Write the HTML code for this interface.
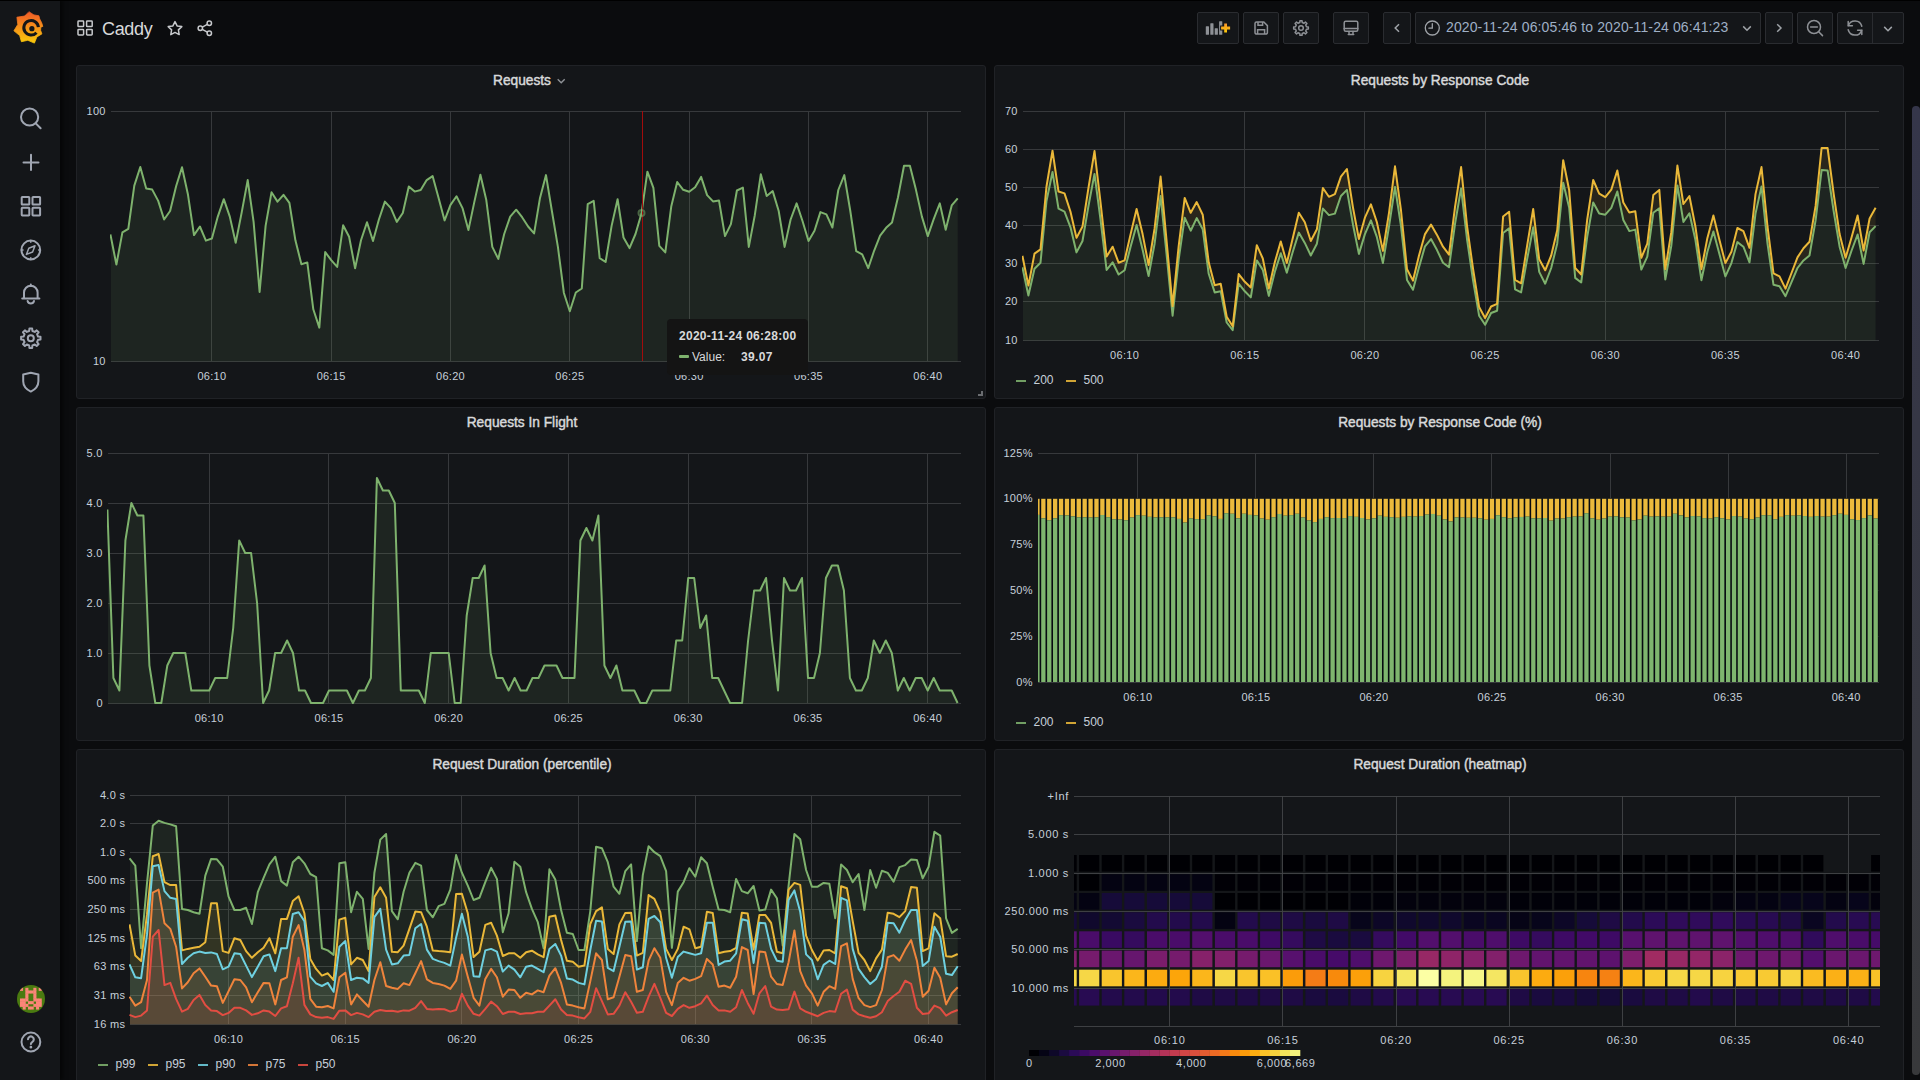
<!DOCTYPE html>
<html><head><meta charset="utf-8"><title>Caddy - Grafana</title>
<style>
*{box-sizing:border-box;margin:0;padding:0}
html,body{width:1920px;height:1080px;overflow:hidden;background:#0b0c0e;font-family:"Liberation Sans",sans-serif;color:#c7d0d9}
.side{position:absolute;left:0;top:0;width:60px;height:1080px;background:#141619;box-shadow:3px 0 4px rgba(0,0,0,.55)}
.topline{position:absolute;left:0;top:0;width:1920px;height:1px;background:#000}
.panel{position:absolute;width:910px;height:334px;background:#141619;border:1px solid #202226;border-radius:3px}
.pt{position:absolute;top:6px;left:-9px;width:100%;text-align:center;font-size:14px;font-weight:normal;-webkit-text-stroke:0.45px #d8d9da;color:#d8d9da;transform:scaleX(.98);transform-origin:center;}
.btn{position:absolute;top:12px;height:32px;background:#141619;border:1px solid #2a2c30;border-radius:2px}
svg text{font-family:"Liberation Sans",sans-serif}
.ico{position:absolute}
.tip{position:absolute;left:667px;top:319px;width:141px;height:56px;background:#141414;border-radius:4px;}
.tip div{position:absolute;white-space:nowrap;font-size:12px;color:#d8d9da}
</style></head><body>
<div class="panel" style="left:76px;top:65px"><div class="pt">Requests</div></div>
<div class="panel" style="left:994px;top:65px"><div class="pt">Requests by Response Code</div></div>
<div class="panel" style="left:76px;top:407px"><div class="pt">Requests In Flight</div></div>
<div class="panel" style="left:994px;top:407px"><div class="pt">Requests by Response Code (%)</div></div>
<div class="panel" style="left:76px;top:749px"><div class="pt">Request Duration (percentile)</div></div>
<div class="panel" style="left:994px;top:749px"><div class="pt">Request Duration (heatmap)</div></div>
<svg class="ico" style="left:0;top:0" width="1920" height="1080" viewBox="0 0 1920 1080">
<rect x="111" y="111" width="850" height="1" fill="#37393c"/>
<rect x="111" y="361" width="850" height="1" fill="#37393c"/>
<rect x="211" y="111" width="1" height="251" fill="#37393c"/>
<text x="211.9" y="380" text-anchor="middle" font-size="11" letter-spacing="0.3" fill="#c7d0d9">06:10</text>
<rect x="331" y="111" width="1" height="251" fill="#37393c"/>
<text x="331.2" y="380" text-anchor="middle" font-size="11" letter-spacing="0.3" fill="#c7d0d9">06:15</text>
<rect x="450" y="111" width="1" height="251" fill="#37393c"/>
<text x="450.5" y="380" text-anchor="middle" font-size="11" letter-spacing="0.3" fill="#c7d0d9">06:20</text>
<rect x="569" y="111" width="1" height="251" fill="#37393c"/>
<text x="569.8" y="380" text-anchor="middle" font-size="11" letter-spacing="0.3" fill="#c7d0d9">06:25</text>
<rect x="689" y="111" width="1" height="251" fill="#37393c"/>
<text x="689.2" y="380" text-anchor="middle" font-size="11" letter-spacing="0.3" fill="#c7d0d9">06:30</text>
<rect x="808" y="111" width="1" height="251" fill="#37393c"/>
<text x="808.5" y="380" text-anchor="middle" font-size="11" letter-spacing="0.3" fill="#c7d0d9">06:35</text>
<rect x="927" y="111" width="1" height="251" fill="#37393c"/>
<text x="927.8" y="380" text-anchor="middle" font-size="11" letter-spacing="0.3" fill="#c7d0d9">06:40</text>
<text x="105.8" y="115" text-anchor="end" font-size="11" letter-spacing="0.3" fill="#c7d0d9">100</text>
<text x="105.8" y="365" text-anchor="end" font-size="11" letter-spacing="0.3" fill="#c7d0d9">10</text>
<clipPath id="c1"><rect x="110" y="100" width="851" height="262"/></clipPath><clipPath id="c1f"><rect x="111" y="100" width="850" height="262"/></clipPath>
<g clip-path="url(#c1)"><path d="M110.4,234.4 L116.4,264.6 L122.4,232.4 L128.3,228.8 L134.3,185.6 L140.3,167 L146.2,188.5 L152.2,189.6 L158.2,200.9 L164.1,219.5 L170.1,211 L176.1,186.3 L182,167.2 L188,194.8 L194,235.1 L199.9,226.5 L205.9,240.6 L211.9,238.5 L217.8,216.6 L223.8,199.2 L229.8,216.6 L235.7,242.8 L241.7,212.4 L247.7,180.1 L253.6,221.9 L259.6,291.9 L265.6,225.9 L271.5,192.3 L277.5,201.6 L283.5,194.8 L289.4,202.9 L295.4,240.3 L301.4,264.2 L307.3,262.4 L313.3,309.3 L319.3,327.6 L325.2,252 L331.2,260.2 L337.2,266.9 L343.1,225.3 L349.1,236.8 L355.1,268.2 L361,240.3 L367,222.2 L373,241 L378.9,219.5 L384.9,201.6 L390.9,208.1 L396.8,221.9 L402.8,213 L408.8,186.5 L414.7,191.6 L420.7,190 L426.7,180.1 L432.6,176.1 L438.6,197.9 L444.6,220.4 L450.5,204.9 L456.5,196.3 L462.5,208.1 L468.4,230.1 L474.4,201.6 L480.4,174.7 L486.3,200.1 L492.3,246.9 L498.3,258.9 L504.2,234 L510.2,216.6 L516.2,209.7 L522.1,217.2 L528.1,226.5 L534.1,233.4 L540,197.9 L546,175.1 L551.9,211 L557.9,246.9 L563.9,293 L569.8,311.3 L575.8,292.5 L581.8,288.5 L587.7,204.2 L593.7,200.9 L599.7,258.1 L605.6,262 L611.6,225.9 L617.6,199.2 L623.5,237.5 L629.5,248.1 L635.5,234 L641.4,213.8 L647.4,171.7 L653.4,187.8 L659.3,245.8 L665.3,252.4 L671.3,206.2 L677.2,182 L683.2,189.8 L689.2,191.8 L695.1,187.3 L701.1,176.9 L707.1,195.1 L713,201.4 L719,200.6 L725,236.1 L730.9,224.1 L736.9,190.5 L742.9,187.6 L748.8,246.9 L754.8,215.2 L760.8,174.3 L766.7,196 L772.7,191.1 L778.7,211 L784.6,246.9 L790.6,219.5 L796.6,203.4 L802.5,221 L808.5,241 L814.5,230.7 L820.4,212.1 L826.4,214.4 L832.4,227.5 L838.3,190 L844.3,175.1 L850.3,211 L856.2,251.2 L862.2,254.4 L868.2,268.2 L874.1,250.8 L880.1,235.7 L886.1,227.8 L892,222.5 L898,197.2 L904,165.7 L909.9,165.7 L915.9,189.6 L921.9,216.6 L927.8,236.1 L933.8,218.9 L939.8,203.4 L945.7,229.7 L951.7,205.4 L957.7,198.4 L957.7,361.5 L110.4,361.5 Z" fill="#7eb26d" fill-opacity="0.1" clip-path="url(#c1f)"/><path d="M110.4,234.4 L116.4,264.6 L122.4,232.4 L128.3,228.8 L134.3,185.6 L140.3,167 L146.2,188.5 L152.2,189.6 L158.2,200.9 L164.1,219.5 L170.1,211 L176.1,186.3 L182,167.2 L188,194.8 L194,235.1 L199.9,226.5 L205.9,240.6 L211.9,238.5 L217.8,216.6 L223.8,199.2 L229.8,216.6 L235.7,242.8 L241.7,212.4 L247.7,180.1 L253.6,221.9 L259.6,291.9 L265.6,225.9 L271.5,192.3 L277.5,201.6 L283.5,194.8 L289.4,202.9 L295.4,240.3 L301.4,264.2 L307.3,262.4 L313.3,309.3 L319.3,327.6 L325.2,252 L331.2,260.2 L337.2,266.9 L343.1,225.3 L349.1,236.8 L355.1,268.2 L361,240.3 L367,222.2 L373,241 L378.9,219.5 L384.9,201.6 L390.9,208.1 L396.8,221.9 L402.8,213 L408.8,186.5 L414.7,191.6 L420.7,190 L426.7,180.1 L432.6,176.1 L438.6,197.9 L444.6,220.4 L450.5,204.9 L456.5,196.3 L462.5,208.1 L468.4,230.1 L474.4,201.6 L480.4,174.7 L486.3,200.1 L492.3,246.9 L498.3,258.9 L504.2,234 L510.2,216.6 L516.2,209.7 L522.1,217.2 L528.1,226.5 L534.1,233.4 L540,197.9 L546,175.1 L551.9,211 L557.9,246.9 L563.9,293 L569.8,311.3 L575.8,292.5 L581.8,288.5 L587.7,204.2 L593.7,200.9 L599.7,258.1 L605.6,262 L611.6,225.9 L617.6,199.2 L623.5,237.5 L629.5,248.1 L635.5,234 L641.4,213.8 L647.4,171.7 L653.4,187.8 L659.3,245.8 L665.3,252.4 L671.3,206.2 L677.2,182 L683.2,189.8 L689.2,191.8 L695.1,187.3 L701.1,176.9 L707.1,195.1 L713,201.4 L719,200.6 L725,236.1 L730.9,224.1 L736.9,190.5 L742.9,187.6 L748.8,246.9 L754.8,215.2 L760.8,174.3 L766.7,196 L772.7,191.1 L778.7,211 L784.6,246.9 L790.6,219.5 L796.6,203.4 L802.5,221 L808.5,241 L814.5,230.7 L820.4,212.1 L826.4,214.4 L832.4,227.5 L838.3,190 L844.3,175.1 L850.3,211 L856.2,251.2 L862.2,254.4 L868.2,268.2 L874.1,250.8 L880.1,235.7 L886.1,227.8 L892,222.5 L898,197.2 L904,165.7 L909.9,165.7 L915.9,189.6 L921.9,216.6 L927.8,236.1 L933.8,218.9 L939.8,203.4 L945.7,229.7 L951.7,205.4 L957.7,198.4" fill="none" stroke="#7eb26d" stroke-width="2" stroke-linejoin="round"/></g>
<rect x="642" y="111" width="1" height="250" fill="#a20c0c"/>
<circle cx="641.5" cy="213" r="3" fill="none" stroke="#7eb26d" stroke-opacity="0.5" stroke-width="2"/>
<rect x="1023" y="111" width="856" height="1" fill="#37393c"/>
<rect x="1023" y="149" width="856" height="1" fill="#37393c"/>
<rect x="1023" y="187" width="856" height="1" fill="#37393c"/>
<rect x="1023" y="225" width="856" height="1" fill="#37393c"/>
<rect x="1023" y="263" width="856" height="1" fill="#37393c"/>
<rect x="1023" y="301" width="856" height="1" fill="#37393c"/>
<rect x="1023" y="340" width="856" height="1" fill="#37393c"/>
<rect x="1124" y="111" width="1" height="230" fill="#37393c"/>
<text x="1124.6" y="359" text-anchor="middle" font-size="11" letter-spacing="0.3" fill="#c7d0d9">06:10</text>
<rect x="1244" y="111" width="1" height="230" fill="#37393c"/>
<text x="1244.8" y="359" text-anchor="middle" font-size="11" letter-spacing="0.3" fill="#c7d0d9">06:15</text>
<rect x="1364" y="111" width="1" height="230" fill="#37393c"/>
<text x="1364.9" y="359" text-anchor="middle" font-size="11" letter-spacing="0.3" fill="#c7d0d9">06:20</text>
<rect x="1485" y="111" width="1" height="230" fill="#37393c"/>
<text x="1485.1" y="359" text-anchor="middle" font-size="11" letter-spacing="0.3" fill="#c7d0d9">06:25</text>
<rect x="1605" y="111" width="1" height="230" fill="#37393c"/>
<text x="1605.3" y="359" text-anchor="middle" font-size="11" letter-spacing="0.3" fill="#c7d0d9">06:30</text>
<rect x="1725" y="111" width="1" height="230" fill="#37393c"/>
<text x="1725.4" y="359" text-anchor="middle" font-size="11" letter-spacing="0.3" fill="#c7d0d9">06:35</text>
<rect x="1845" y="111" width="1" height="230" fill="#37393c"/>
<text x="1845.6" y="359" text-anchor="middle" font-size="11" letter-spacing="0.3" fill="#c7d0d9">06:40</text>
<text x="1017.8" y="115" text-anchor="end" font-size="11" letter-spacing="0.3" fill="#c7d0d9">70</text>
<text x="1017.8" y="153" text-anchor="end" font-size="11" letter-spacing="0.3" fill="#c7d0d9">60</text>
<text x="1017.8" y="191" text-anchor="end" font-size="11" letter-spacing="0.3" fill="#c7d0d9">50</text>
<text x="1017.8" y="229" text-anchor="end" font-size="11" letter-spacing="0.3" fill="#c7d0d9">40</text>
<text x="1017.8" y="267" text-anchor="end" font-size="11" letter-spacing="0.3" fill="#c7d0d9">30</text>
<text x="1017.8" y="305" text-anchor="end" font-size="11" letter-spacing="0.3" fill="#c7d0d9">20</text>
<text x="1017.8" y="344" text-anchor="end" font-size="11" letter-spacing="0.3" fill="#c7d0d9">10</text>
<clipPath id="c2"><rect x="1022" y="100" width="857" height="241"/></clipPath><clipPath id="c2f"><rect x="1023" y="100" width="856" height="241"/></clipPath>
<g clip-path="url(#c2)"><g clip-path="url(#c2f)"><path d="M1022.4,267.3 L1028.4,295.5 L1034.5,268.8 L1040.5,262.7 L1046.5,201 L1052.5,172 L1058.5,208.6 L1064.5,211.7 L1070.5,227.3 L1076.5,252.4 L1082.5,241 L1088.5,205.9 L1094.5,173.9 L1100.5,219.7 L1106.6,269.9 L1112.6,262.3 L1118.6,274.5 L1124.6,270.3 L1130.6,246.7 L1136.6,225 L1142.6,249.8 L1148.6,276 L1154.6,243.7 L1160.6,196 L1166.6,254.7 L1172.6,315.7 L1178.7,259.3 L1184.7,217.7 L1190.7,230.7 L1196.7,218.1 L1202.7,229.2 L1208.7,273.8 L1214.7,292.4 L1220.7,291.3 L1226.7,322.5 L1232.7,330.1 L1238.7,283.7 L1244.8,291.3 L1250.8,297.4 L1256.8,260.4 L1262.8,269.9 L1268.8,295.9 L1274.8,271.9 L1280.8,253.2 L1286.8,272.6 L1292.8,251.7 L1298.8,232.6 L1304.8,242.9 L1310.8,255.5 L1316.9,243.7 L1322.9,208.6 L1328.9,215.1 L1334.9,213.6 L1340.9,196 L1346.9,189.9 L1352.9,224.2 L1358.9,253.9 L1364.9,234.1 L1370.9,220.4 L1376.9,237.2 L1382.9,263.1 L1389,226.5 L1395,186.9 L1401,226.1 L1407,279.9 L1413,289.8 L1419,267.3 L1425,246.3 L1431,239.1 L1437,250.1 L1443,262.7 L1449,267.3 L1455,224.2 L1461.1,188.4 L1467.1,239.8 L1473.1,280.6 L1479.1,315.7 L1485.1,324.8 L1491.1,313 L1497.1,310.7 L1503.1,233 L1509.1,228.4 L1515.1,289.4 L1521.1,292.4 L1527.1,259.3 L1533.2,227.3 L1539.2,271.9 L1545.2,283.7 L1551.2,268 L1557.2,243.7 L1563.2,182.7 L1569.2,207.8 L1575.2,277.9 L1581.2,282.5 L1587.2,236.8 L1593.2,202.5 L1599.2,213.6 L1605.3,214.7 L1611.3,207.8 L1617.3,191.5 L1623.3,220 L1629.3,231.1 L1635.3,229.6 L1641.3,269.6 L1647.3,256.6 L1653.3,212.8 L1659.3,208.2 L1665.3,279.5 L1671.3,245.9 L1677.4,185.4 L1683.4,221.9 L1689.4,213.2 L1695.4,239.8 L1701.4,280.2 L1707.4,251.7 L1713.4,231.5 L1719.4,253.9 L1725.4,276.4 L1731.4,263.1 L1737.4,242.1 L1743.4,246.7 L1749.5,262.3 L1755.5,213.6 L1761.5,186.5 L1767.5,243.7 L1773.5,284.8 L1779.5,286.3 L1785.5,296.2 L1791.5,282.1 L1797.5,268 L1803.5,260.4 L1809.5,255.5 L1815.6,220.4 L1821.6,170.1 L1827.6,170.5 L1833.6,210.9 L1839.6,246.7 L1845.6,268 L1851.6,250.5 L1857.6,234.5 L1863.6,263.9 L1869.6,232.2 L1875.6,226.1 L1875.6,340.5 L1022.4,340.5 Z" fill="#7eb26d" fill-opacity="0.1"/><path d="M1022.4,255.8 L1028.4,285.6 L1034.5,253.6 L1040.5,249.4 L1046.5,186.5 L1052.5,150.7 L1058.5,191.5 L1064.5,193.4 L1070.5,211.7 L1076.5,237.9 L1082.5,226.5 L1088.5,187.7 L1094.5,151.1 L1100.5,202.1 L1106.6,256.6 L1112.6,246.7 L1118.6,262.7 L1124.6,260.4 L1130.6,234.1 L1136.6,209 L1142.6,234.1 L1148.6,265 L1154.6,228.4 L1160.6,176.6 L1166.6,241 L1172.6,306.1 L1178.7,245.9 L1184.7,197.9 L1190.7,212.8 L1196.7,202.1 L1202.7,214.7 L1208.7,262.3 L1214.7,285.2 L1220.7,283.7 L1226.7,316.8 L1232.7,326.3 L1238.7,274.1 L1244.8,281.8 L1250.8,287.5 L1256.8,245.2 L1262.8,258.5 L1268.8,288.6 L1274.8,262.3 L1280.8,241.4 L1286.8,263.1 L1292.8,237.9 L1298.8,212.8 L1304.8,222.3 L1310.8,241 L1316.9,229.2 L1322.9,188 L1328.9,196.8 L1334.9,194.1 L1340.9,176.6 L1346.9,169 L1352.9,207.1 L1358.9,239.1 L1364.9,217.7 L1370.9,204.4 L1376.9,222.3 L1382.9,250.9 L1389,212.8 L1395,166.3 L1401,210.5 L1407,269.2 L1413,280.6 L1419,255.5 L1425,234.1 L1431,224.6 L1437,234.9 L1443,246.7 L1449,254.7 L1455,207.1 L1461.1,167.1 L1467.1,226.5 L1473.1,269.2 L1479.1,306.9 L1485.1,318 L1491.1,306.5 L1497.1,303.9 L1503.1,216.6 L1509.1,211.7 L1515.1,279.9 L1521.1,283.3 L1527.1,245.9 L1533.2,209 L1539.2,259.3 L1545.2,270.3 L1551.2,255.5 L1557.2,230.3 L1563.2,160.2 L1569.2,190.3 L1575.2,268 L1581.2,274.5 L1587.2,219.7 L1593.2,180 L1599.2,193.7 L1605.3,197.2 L1611.3,189.6 L1617.3,170.5 L1623.3,202.5 L1629.3,212.4 L1635.3,211.3 L1641.3,257.8 L1647.3,243.7 L1653.3,194.9 L1659.3,189.9 L1665.3,269.2 L1671.3,232.2 L1677.4,165.6 L1683.4,204 L1689.4,196 L1695.4,226.5 L1701.4,269.2 L1707.4,237.9 L1713.4,215.5 L1719.4,239.8 L1725.4,263.1 L1731.4,251.7 L1737.4,228 L1743.4,231.1 L1749.5,247.8 L1755.5,194.1 L1761.5,167.1 L1767.5,226.5 L1773.5,273.4 L1779.5,276.4 L1785.5,288.6 L1791.5,273 L1797.5,257.4 L1803.5,248.2 L1809.5,241.8 L1815.6,205.9 L1821.6,148 L1827.6,148 L1833.6,193.4 L1839.6,234.1 L1845.6,257.8 L1851.6,237.2 L1857.6,215.5 L1863.6,250.5 L1869.6,218.5 L1875.6,207.8 L1875.6,226.1 L1869.6,232.2 L1863.6,263.9 L1857.6,234.5 L1851.6,250.5 L1845.6,268 L1839.6,246.7 L1833.6,210.9 L1827.6,170.5 L1821.6,170.1 L1815.6,220.4 L1809.5,255.5 L1803.5,260.4 L1797.5,268 L1791.5,282.1 L1785.5,296.2 L1779.5,286.3 L1773.5,284.8 L1767.5,243.7 L1761.5,186.5 L1755.5,213.6 L1749.5,262.3 L1743.4,246.7 L1737.4,242.1 L1731.4,263.1 L1725.4,276.4 L1719.4,253.9 L1713.4,231.5 L1707.4,251.7 L1701.4,280.2 L1695.4,239.8 L1689.4,213.2 L1683.4,221.9 L1677.4,185.4 L1671.3,245.9 L1665.3,279.5 L1659.3,208.2 L1653.3,212.8 L1647.3,256.6 L1641.3,269.6 L1635.3,229.6 L1629.3,231.1 L1623.3,220 L1617.3,191.5 L1611.3,207.8 L1605.3,214.7 L1599.2,213.6 L1593.2,202.5 L1587.2,236.8 L1581.2,282.5 L1575.2,277.9 L1569.2,207.8 L1563.2,182.7 L1557.2,243.7 L1551.2,268 L1545.2,283.7 L1539.2,271.9 L1533.2,227.3 L1527.1,259.3 L1521.1,292.4 L1515.1,289.4 L1509.1,228.4 L1503.1,233 L1497.1,310.7 L1491.1,313 L1485.1,324.8 L1479.1,315.7 L1473.1,280.6 L1467.1,239.8 L1461.1,188.4 L1455,224.2 L1449,267.3 L1443,262.7 L1437,250.1 L1431,239.1 L1425,246.3 L1419,267.3 L1413,289.8 L1407,279.9 L1401,226.1 L1395,186.9 L1389,226.5 L1382.9,263.1 L1376.9,237.2 L1370.9,220.4 L1364.9,234.1 L1358.9,253.9 L1352.9,224.2 L1346.9,189.9 L1340.9,196 L1334.9,213.6 L1328.9,215.1 L1322.9,208.6 L1316.9,243.7 L1310.8,255.5 L1304.8,242.9 L1298.8,232.6 L1292.8,251.7 L1286.8,272.6 L1280.8,253.2 L1274.8,271.9 L1268.8,295.9 L1262.8,269.9 L1256.8,260.4 L1250.8,297.4 L1244.8,291.3 L1238.7,283.7 L1232.7,330.1 L1226.7,322.5 L1220.7,291.3 L1214.7,292.4 L1208.7,273.8 L1202.7,229.2 L1196.7,218.1 L1190.7,230.7 L1184.7,217.7 L1178.7,259.3 L1172.6,315.7 L1166.6,254.7 L1160.6,196 L1154.6,243.7 L1148.6,276 L1142.6,249.8 L1136.6,225 L1130.6,246.7 L1124.6,270.3 L1118.6,274.5 L1112.6,262.3 L1106.6,269.9 L1100.5,219.7 L1094.5,173.9 L1088.5,205.9 L1082.5,241 L1076.5,252.4 L1070.5,227.3 L1064.5,211.7 L1058.5,208.6 L1052.5,172 L1046.5,201 L1040.5,262.7 L1034.5,268.8 L1028.4,295.5 L1022.4,267.3 Z" fill="#eab839" fill-opacity="0.1"/></g><path d="M1022.4,267.3 L1028.4,295.5 L1034.5,268.8 L1040.5,262.7 L1046.5,201 L1052.5,172 L1058.5,208.6 L1064.5,211.7 L1070.5,227.3 L1076.5,252.4 L1082.5,241 L1088.5,205.9 L1094.5,173.9 L1100.5,219.7 L1106.6,269.9 L1112.6,262.3 L1118.6,274.5 L1124.6,270.3 L1130.6,246.7 L1136.6,225 L1142.6,249.8 L1148.6,276 L1154.6,243.7 L1160.6,196 L1166.6,254.7 L1172.6,315.7 L1178.7,259.3 L1184.7,217.7 L1190.7,230.7 L1196.7,218.1 L1202.7,229.2 L1208.7,273.8 L1214.7,292.4 L1220.7,291.3 L1226.7,322.5 L1232.7,330.1 L1238.7,283.7 L1244.8,291.3 L1250.8,297.4 L1256.8,260.4 L1262.8,269.9 L1268.8,295.9 L1274.8,271.9 L1280.8,253.2 L1286.8,272.6 L1292.8,251.7 L1298.8,232.6 L1304.8,242.9 L1310.8,255.5 L1316.9,243.7 L1322.9,208.6 L1328.9,215.1 L1334.9,213.6 L1340.9,196 L1346.9,189.9 L1352.9,224.2 L1358.9,253.9 L1364.9,234.1 L1370.9,220.4 L1376.9,237.2 L1382.9,263.1 L1389,226.5 L1395,186.9 L1401,226.1 L1407,279.9 L1413,289.8 L1419,267.3 L1425,246.3 L1431,239.1 L1437,250.1 L1443,262.7 L1449,267.3 L1455,224.2 L1461.1,188.4 L1467.1,239.8 L1473.1,280.6 L1479.1,315.7 L1485.1,324.8 L1491.1,313 L1497.1,310.7 L1503.1,233 L1509.1,228.4 L1515.1,289.4 L1521.1,292.4 L1527.1,259.3 L1533.2,227.3 L1539.2,271.9 L1545.2,283.7 L1551.2,268 L1557.2,243.7 L1563.2,182.7 L1569.2,207.8 L1575.2,277.9 L1581.2,282.5 L1587.2,236.8 L1593.2,202.5 L1599.2,213.6 L1605.3,214.7 L1611.3,207.8 L1617.3,191.5 L1623.3,220 L1629.3,231.1 L1635.3,229.6 L1641.3,269.6 L1647.3,256.6 L1653.3,212.8 L1659.3,208.2 L1665.3,279.5 L1671.3,245.9 L1677.4,185.4 L1683.4,221.9 L1689.4,213.2 L1695.4,239.8 L1701.4,280.2 L1707.4,251.7 L1713.4,231.5 L1719.4,253.9 L1725.4,276.4 L1731.4,263.1 L1737.4,242.1 L1743.4,246.7 L1749.5,262.3 L1755.5,213.6 L1761.5,186.5 L1767.5,243.7 L1773.5,284.8 L1779.5,286.3 L1785.5,296.2 L1791.5,282.1 L1797.5,268 L1803.5,260.4 L1809.5,255.5 L1815.6,220.4 L1821.6,170.1 L1827.6,170.5 L1833.6,210.9 L1839.6,246.7 L1845.6,268 L1851.6,250.5 L1857.6,234.5 L1863.6,263.9 L1869.6,232.2 L1875.6,226.1" fill="none" stroke="#7eb26d" stroke-width="2" stroke-linejoin="round"/><path d="M1022.4,255.8 L1028.4,285.6 L1034.5,253.6 L1040.5,249.4 L1046.5,186.5 L1052.5,150.7 L1058.5,191.5 L1064.5,193.4 L1070.5,211.7 L1076.5,237.9 L1082.5,226.5 L1088.5,187.7 L1094.5,151.1 L1100.5,202.1 L1106.6,256.6 L1112.6,246.7 L1118.6,262.7 L1124.6,260.4 L1130.6,234.1 L1136.6,209 L1142.6,234.1 L1148.6,265 L1154.6,228.4 L1160.6,176.6 L1166.6,241 L1172.6,306.1 L1178.7,245.9 L1184.7,197.9 L1190.7,212.8 L1196.7,202.1 L1202.7,214.7 L1208.7,262.3 L1214.7,285.2 L1220.7,283.7 L1226.7,316.8 L1232.7,326.3 L1238.7,274.1 L1244.8,281.8 L1250.8,287.5 L1256.8,245.2 L1262.8,258.5 L1268.8,288.6 L1274.8,262.3 L1280.8,241.4 L1286.8,263.1 L1292.8,237.9 L1298.8,212.8 L1304.8,222.3 L1310.8,241 L1316.9,229.2 L1322.9,188 L1328.9,196.8 L1334.9,194.1 L1340.9,176.6 L1346.9,169 L1352.9,207.1 L1358.9,239.1 L1364.9,217.7 L1370.9,204.4 L1376.9,222.3 L1382.9,250.9 L1389,212.8 L1395,166.3 L1401,210.5 L1407,269.2 L1413,280.6 L1419,255.5 L1425,234.1 L1431,224.6 L1437,234.9 L1443,246.7 L1449,254.7 L1455,207.1 L1461.1,167.1 L1467.1,226.5 L1473.1,269.2 L1479.1,306.9 L1485.1,318 L1491.1,306.5 L1497.1,303.9 L1503.1,216.6 L1509.1,211.7 L1515.1,279.9 L1521.1,283.3 L1527.1,245.9 L1533.2,209 L1539.2,259.3 L1545.2,270.3 L1551.2,255.5 L1557.2,230.3 L1563.2,160.2 L1569.2,190.3 L1575.2,268 L1581.2,274.5 L1587.2,219.7 L1593.2,180 L1599.2,193.7 L1605.3,197.2 L1611.3,189.6 L1617.3,170.5 L1623.3,202.5 L1629.3,212.4 L1635.3,211.3 L1641.3,257.8 L1647.3,243.7 L1653.3,194.9 L1659.3,189.9 L1665.3,269.2 L1671.3,232.2 L1677.4,165.6 L1683.4,204 L1689.4,196 L1695.4,226.5 L1701.4,269.2 L1707.4,237.9 L1713.4,215.5 L1719.4,239.8 L1725.4,263.1 L1731.4,251.7 L1737.4,228 L1743.4,231.1 L1749.5,247.8 L1755.5,194.1 L1761.5,167.1 L1767.5,226.5 L1773.5,273.4 L1779.5,276.4 L1785.5,288.6 L1791.5,273 L1797.5,257.4 L1803.5,248.2 L1809.5,241.8 L1815.6,205.9 L1821.6,148 L1827.6,148 L1833.6,193.4 L1839.6,234.1 L1845.6,257.8 L1851.6,237.2 L1857.6,215.5 L1863.6,250.5 L1869.6,218.5 L1875.6,207.8" fill="none" stroke="#eab839" stroke-width="2" stroke-linejoin="round"/></g>
<rect x="108" y="453" width="853" height="1" fill="#37393c"/>
<rect x="108" y="503" width="853" height="1" fill="#37393c"/>
<rect x="108" y="553" width="853" height="1" fill="#37393c"/>
<rect x="108" y="603" width="853" height="1" fill="#37393c"/>
<rect x="108" y="653" width="853" height="1" fill="#37393c"/>
<rect x="108" y="703" width="853" height="1" fill="#37393c"/>
<rect x="209" y="453" width="1" height="251" fill="#37393c"/>
<text x="209.2" y="722" text-anchor="middle" font-size="11" letter-spacing="0.3" fill="#c7d0d9">06:10</text>
<rect x="328" y="453" width="1" height="251" fill="#37393c"/>
<text x="329" y="722" text-anchor="middle" font-size="11" letter-spacing="0.3" fill="#c7d0d9">06:15</text>
<rect x="448" y="453" width="1" height="251" fill="#37393c"/>
<text x="448.7" y="722" text-anchor="middle" font-size="11" letter-spacing="0.3" fill="#c7d0d9">06:20</text>
<rect x="568" y="453" width="1" height="251" fill="#37393c"/>
<text x="568.5" y="722" text-anchor="middle" font-size="11" letter-spacing="0.3" fill="#c7d0d9">06:25</text>
<rect x="688" y="453" width="1" height="251" fill="#37393c"/>
<text x="688.2" y="722" text-anchor="middle" font-size="11" letter-spacing="0.3" fill="#c7d0d9">06:30</text>
<rect x="807" y="453" width="1" height="251" fill="#37393c"/>
<text x="808" y="722" text-anchor="middle" font-size="11" letter-spacing="0.3" fill="#c7d0d9">06:35</text>
<rect x="927" y="453" width="1" height="251" fill="#37393c"/>
<text x="927.7" y="722" text-anchor="middle" font-size="11" letter-spacing="0.3" fill="#c7d0d9">06:40</text>
<text x="102.8" y="457" text-anchor="end" font-size="11" letter-spacing="0.3" fill="#c7d0d9">5.0</text>
<text x="102.8" y="507" text-anchor="end" font-size="11" letter-spacing="0.3" fill="#c7d0d9">4.0</text>
<text x="102.8" y="557" text-anchor="end" font-size="11" letter-spacing="0.3" fill="#c7d0d9">3.0</text>
<text x="102.8" y="607" text-anchor="end" font-size="11" letter-spacing="0.3" fill="#c7d0d9">2.0</text>
<text x="102.8" y="657" text-anchor="end" font-size="11" letter-spacing="0.3" fill="#c7d0d9">1.0</text>
<text x="102.8" y="707" text-anchor="end" font-size="11" letter-spacing="0.3" fill="#c7d0d9">0</text>
<clipPath id="c3"><rect x="107" y="440" width="854" height="264.5"/></clipPath><clipPath id="c3f"><rect x="108" y="440" width="853" height="264.5"/></clipPath>
<g clip-path="url(#c3)"><path d="M107.4,509.5 L113.4,678 L119.4,690.5 L125.4,540.5 L131.4,503 L137.4,515.5 L143.4,515.5 L149.4,665.5 L155.3,703 L161.3,703 L167.3,665.5 L173.3,653 L179.3,653 L185.3,653 L191.3,690.5 L197.3,690.5 L203.2,690.5 L209.2,690.5 L215.2,678 L221.2,678 L227.2,678 L233.2,628 L239.2,540.5 L245.2,553 L251.1,553 L257.1,603 L263.1,703 L269.1,690.5 L275.1,653 L281.1,653 L287.1,640.5 L293,653 L299,690.5 L305,690.5 L311,703 L317,703 L323,703 L329,690.5 L335,690.5 L340.9,690.5 L346.9,690.5 L352.9,703 L358.9,690.5 L364.9,690.5 L370.9,678 L376.9,478 L382.9,490.5 L388.8,490.5 L394.8,503 L400.8,690.5 L406.8,690.5 L412.8,690.5 L418.8,690.5 L424.8,703 L430.8,653 L436.7,653 L442.7,653 L448.7,653 L454.7,703 L460.7,703 L466.7,615.5 L472.7,578 L478.7,578 L484.6,565.5 L490.6,653 L496.6,678 L502.6,678 L508.6,690.5 L514.6,678 L520.6,690.5 L526.6,690.5 L532.5,678 L538.5,678 L544.5,665.5 L550.5,665.5 L556.5,665.5 L562.5,678 L568.5,678 L574.5,678 L580.4,540.5 L586.4,528 L592.4,540.5 L598.4,515.5 L604.4,665.5 L610.4,678 L616.4,665.5 L622.4,690.5 L628.3,690.5 L634.3,690.5 L640.3,703 L646.3,703 L652.3,690.5 L658.3,690.5 L664.3,690.5 L670.3,690.5 L676.2,640.5 L682.2,640.5 L688.2,578 L694.2,578 L700.2,628 L706.2,615.5 L712.2,678 L718.2,678 L724.1,690.5 L730.1,703 L736.1,703 L742.1,703 L748.1,640.5 L754.1,590.5 L760.1,590.5 L766.1,578 L772,640.5 L778,690.5 L784,578 L790,590.5 L796,590.5 L802,578 L808,678 L814,678 L819.9,653 L825.9,578 L831.9,565.5 L837.9,565.5 L843.9,590.5 L849.9,678 L855.9,690.5 L861.8,690.5 L867.8,678 L873.8,640.5 L879.8,653 L885.8,640.5 L891.8,653 L897.8,690.5 L903.8,678 L909.7,690.5 L915.7,678 L921.7,678 L927.7,690.5 L933.7,678 L939.7,690.5 L945.7,690.5 L951.7,690.5 L957.6,703 L957.6,703.5 L107.4,703.5 Z" fill="#7eb26d" fill-opacity="0.1" clip-path="url(#c3f)"/><path d="M107.4,509.5 L113.4,678 L119.4,690.5 L125.4,540.5 L131.4,503 L137.4,515.5 L143.4,515.5 L149.4,665.5 L155.3,703 L161.3,703 L167.3,665.5 L173.3,653 L179.3,653 L185.3,653 L191.3,690.5 L197.3,690.5 L203.2,690.5 L209.2,690.5 L215.2,678 L221.2,678 L227.2,678 L233.2,628 L239.2,540.5 L245.2,553 L251.1,553 L257.1,603 L263.1,703 L269.1,690.5 L275.1,653 L281.1,653 L287.1,640.5 L293,653 L299,690.5 L305,690.5 L311,703 L317,703 L323,703 L329,690.5 L335,690.5 L340.9,690.5 L346.9,690.5 L352.9,703 L358.9,690.5 L364.9,690.5 L370.9,678 L376.9,478 L382.9,490.5 L388.8,490.5 L394.8,503 L400.8,690.5 L406.8,690.5 L412.8,690.5 L418.8,690.5 L424.8,703 L430.8,653 L436.7,653 L442.7,653 L448.7,653 L454.7,703 L460.7,703 L466.7,615.5 L472.7,578 L478.7,578 L484.6,565.5 L490.6,653 L496.6,678 L502.6,678 L508.6,690.5 L514.6,678 L520.6,690.5 L526.6,690.5 L532.5,678 L538.5,678 L544.5,665.5 L550.5,665.5 L556.5,665.5 L562.5,678 L568.5,678 L574.5,678 L580.4,540.5 L586.4,528 L592.4,540.5 L598.4,515.5 L604.4,665.5 L610.4,678 L616.4,665.5 L622.4,690.5 L628.3,690.5 L634.3,690.5 L640.3,703 L646.3,703 L652.3,690.5 L658.3,690.5 L664.3,690.5 L670.3,690.5 L676.2,640.5 L682.2,640.5 L688.2,578 L694.2,578 L700.2,628 L706.2,615.5 L712.2,678 L718.2,678 L724.1,690.5 L730.1,703 L736.1,703 L742.1,703 L748.1,640.5 L754.1,590.5 L760.1,590.5 L766.1,578 L772,640.5 L778,690.5 L784,578 L790,590.5 L796,590.5 L802,578 L808,678 L814,678 L819.9,653 L825.9,578 L831.9,565.5 L837.9,565.5 L843.9,590.5 L849.9,678 L855.9,690.5 L861.8,690.5 L867.8,678 L873.8,640.5 L879.8,653 L885.8,640.5 L891.8,653 L897.8,690.5 L903.8,678 L909.7,690.5 L915.7,678 L921.7,678 L927.7,690.5 L933.7,678 L939.7,690.5 L945.7,690.5 L951.7,690.5 L957.6,703" fill="none" stroke="#7eb26d" stroke-width="2" stroke-linejoin="round"/></g>
<rect x="1038" y="453" width="841" height="1" fill="#37393c"/>
<rect x="1038" y="498" width="841" height="1" fill="#37393c"/>
<rect x="1038" y="544" width="841" height="1" fill="#37393c"/>
<rect x="1038" y="590" width="841" height="1" fill="#37393c"/>
<rect x="1038" y="636" width="841" height="1" fill="#37393c"/>
<rect x="1038" y="682" width="841" height="1" fill="#37393c"/>
<rect x="1137" y="453" width="1" height="230" fill="#37393c"/>
<text x="1137.8" y="701" text-anchor="middle" font-size="11" letter-spacing="0.3" fill="#c7d0d9">06:10</text>
<rect x="1255" y="453" width="1" height="230" fill="#37393c"/>
<text x="1255.9" y="701" text-anchor="middle" font-size="11" letter-spacing="0.3" fill="#c7d0d9">06:15</text>
<rect x="1373" y="453" width="1" height="230" fill="#37393c"/>
<text x="1373.9" y="701" text-anchor="middle" font-size="11" letter-spacing="0.3" fill="#c7d0d9">06:20</text>
<rect x="1491" y="453" width="1" height="230" fill="#37393c"/>
<text x="1492" y="701" text-anchor="middle" font-size="11" letter-spacing="0.3" fill="#c7d0d9">06:25</text>
<rect x="1610" y="453" width="1" height="230" fill="#37393c"/>
<text x="1610.1" y="701" text-anchor="middle" font-size="11" letter-spacing="0.3" fill="#c7d0d9">06:30</text>
<rect x="1728" y="453" width="1" height="230" fill="#37393c"/>
<text x="1728.1" y="701" text-anchor="middle" font-size="11" letter-spacing="0.3" fill="#c7d0d9">06:35</text>
<rect x="1846" y="453" width="1" height="230" fill="#37393c"/>
<text x="1846.2" y="701" text-anchor="middle" font-size="11" letter-spacing="0.3" fill="#c7d0d9">06:40</text>
<text x="1032.8" y="457" text-anchor="end" font-size="11" letter-spacing="0.3" fill="#c7d0d9">125%</text>
<text x="1032.8" y="502" text-anchor="end" font-size="11" letter-spacing="0.3" fill="#c7d0d9">100%</text>
<text x="1032.8" y="548" text-anchor="end" font-size="11" letter-spacing="0.3" fill="#c7d0d9">75%</text>
<text x="1032.8" y="594" text-anchor="end" font-size="11" letter-spacing="0.3" fill="#c7d0d9">50%</text>
<text x="1032.8" y="640" text-anchor="end" font-size="11" letter-spacing="0.3" fill="#c7d0d9">25%</text>
<text x="1032.8" y="686" text-anchor="end" font-size="11" letter-spacing="0.3" fill="#c7d0d9">0%</text>
<clipPath id="c4"><rect x="1038" y="440" width="841" height="242.5"/></clipPath>
<g clip-path="url(#c4)"><rect x="1038" y="498.3" width="840.5" height="183.7" fill="#070a10"/><rect x="1035.3" y="498.8" width="4.3" height="16.11" fill="#ebba3c"/><rect x="1035.3" y="514.91" width="4.3" height="167.09" fill="#7eb56e"/><rect x="1041.2" y="498.8" width="4.3" height="19.54" fill="#ebba3c"/><rect x="1041.2" y="518.34" width="4.3" height="163.66" fill="#7eb56e"/><rect x="1047.11" y="498.8" width="4.3" height="21.49" fill="#ebba3c"/><rect x="1047.11" y="520.29" width="4.3" height="161.71" fill="#7eb56e"/><rect x="1053.01" y="498.8" width="4.3" height="19.54" fill="#ebba3c"/><rect x="1053.01" y="518.34" width="4.3" height="163.66" fill="#7eb56e"/><rect x="1058.91" y="498.8" width="4.3" height="16.34" fill="#ebba3c"/><rect x="1058.91" y="515.14" width="4.3" height="166.86" fill="#7eb56e"/><rect x="1064.81" y="498.8" width="4.3" height="16.68" fill="#ebba3c"/><rect x="1064.81" y="515.48" width="4.3" height="166.52" fill="#7eb56e"/><rect x="1070.72" y="498.8" width="4.3" height="17.6" fill="#ebba3c"/><rect x="1070.72" y="516.4" width="4.3" height="165.6" fill="#7eb56e"/><rect x="1076.62" y="498.8" width="4.3" height="18.51" fill="#ebba3c"/><rect x="1076.62" y="517.31" width="4.3" height="164.69" fill="#7eb56e"/><rect x="1082.52" y="498.8" width="4.3" height="18.51" fill="#ebba3c"/><rect x="1082.52" y="517.31" width="4.3" height="164.69" fill="#7eb56e"/><rect x="1088.43" y="498.8" width="4.3" height="18.74" fill="#ebba3c"/><rect x="1088.43" y="517.54" width="4.3" height="164.46" fill="#7eb56e"/><rect x="1094.33" y="498.8" width="4.3" height="18.51" fill="#ebba3c"/><rect x="1094.33" y="517.31" width="4.3" height="164.69" fill="#7eb56e"/><rect x="1100.23" y="498.8" width="4.3" height="16.22" fill="#ebba3c"/><rect x="1100.23" y="515.02" width="4.3" height="166.98" fill="#7eb56e"/><rect x="1106.14" y="498.8" width="4.3" height="18.4" fill="#ebba3c"/><rect x="1106.14" y="517.2" width="4.3" height="164.8" fill="#7eb56e"/><rect x="1112.04" y="498.8" width="4.3" height="20.46" fill="#ebba3c"/><rect x="1112.04" y="519.26" width="4.3" height="162.74" fill="#7eb56e"/><rect x="1117.94" y="498.8" width="4.3" height="20.69" fill="#ebba3c"/><rect x="1117.94" y="519.49" width="4.3" height="162.51" fill="#7eb56e"/><rect x="1123.85" y="498.8" width="4.3" height="21.49" fill="#ebba3c"/><rect x="1123.85" y="520.29" width="4.3" height="161.71" fill="#7eb56e"/><rect x="1129.75" y="498.8" width="4.3" height="18.74" fill="#ebba3c"/><rect x="1129.75" y="517.54" width="4.3" height="164.46" fill="#7eb56e"/><rect x="1135.65" y="498.8" width="4.3" height="16.34" fill="#ebba3c"/><rect x="1135.65" y="515.14" width="4.3" height="166.86" fill="#7eb56e"/><rect x="1141.56" y="498.8" width="4.3" height="16.91" fill="#ebba3c"/><rect x="1141.56" y="515.71" width="4.3" height="166.29" fill="#7eb56e"/><rect x="1147.46" y="498.8" width="4.3" height="18.05" fill="#ebba3c"/><rect x="1147.46" y="516.85" width="4.3" height="165.15" fill="#7eb56e"/><rect x="1153.36" y="498.8" width="4.3" height="18.63" fill="#ebba3c"/><rect x="1153.36" y="517.43" width="4.3" height="164.57" fill="#7eb56e"/><rect x="1159.26" y="498.8" width="4.3" height="18.51" fill="#ebba3c"/><rect x="1159.26" y="517.31" width="4.3" height="164.69" fill="#7eb56e"/><rect x="1165.17" y="498.8" width="4.3" height="18.51" fill="#ebba3c"/><rect x="1165.17" y="517.31" width="4.3" height="164.69" fill="#7eb56e"/><rect x="1171.07" y="498.8" width="4.3" height="18.51" fill="#ebba3c"/><rect x="1171.07" y="517.31" width="4.3" height="164.69" fill="#7eb56e"/><rect x="1176.97" y="498.8" width="4.3" height="20.12" fill="#ebba3c"/><rect x="1176.97" y="518.92" width="4.3" height="163.08" fill="#7eb56e"/><rect x="1182.88" y="498.8" width="4.3" height="23.78" fill="#ebba3c"/><rect x="1182.88" y="522.58" width="4.3" height="159.42" fill="#7eb56e"/><rect x="1188.78" y="498.8" width="4.3" height="19.77" fill="#ebba3c"/><rect x="1188.78" y="518.57" width="4.3" height="163.43" fill="#7eb56e"/><rect x="1194.68" y="498.8" width="4.3" height="20.35" fill="#ebba3c"/><rect x="1194.68" y="519.15" width="4.3" height="162.85" fill="#7eb56e"/><rect x="1200.59" y="498.8" width="4.3" height="20.35" fill="#ebba3c"/><rect x="1200.59" y="519.15" width="4.3" height="162.85" fill="#7eb56e"/><rect x="1206.49" y="498.8" width="4.3" height="16.68" fill="#ebba3c"/><rect x="1206.49" y="515.48" width="4.3" height="166.52" fill="#7eb56e"/><rect x="1212.39" y="498.8" width="4.3" height="17.48" fill="#ebba3c"/><rect x="1212.39" y="516.28" width="4.3" height="165.72" fill="#7eb56e"/><rect x="1218.3" y="498.8" width="4.3" height="20.12" fill="#ebba3c"/><rect x="1218.3" y="518.92" width="4.3" height="163.08" fill="#7eb56e"/><rect x="1224.2" y="498.8" width="4.3" height="14.39" fill="#ebba3c"/><rect x="1224.2" y="513.19" width="4.3" height="168.81" fill="#7eb56e"/><rect x="1230.1" y="498.8" width="4.3" height="14.96" fill="#ebba3c"/><rect x="1230.1" y="513.76" width="4.3" height="168.24" fill="#7eb56e"/><rect x="1236.01" y="498.8" width="4.3" height="19.54" fill="#ebba3c"/><rect x="1236.01" y="518.34" width="4.3" height="163.66" fill="#7eb56e"/><rect x="1241.91" y="498.8" width="4.3" height="14.96" fill="#ebba3c"/><rect x="1241.91" y="513.76" width="4.3" height="168.24" fill="#7eb56e"/><rect x="1247.81" y="498.8" width="4.3" height="16.11" fill="#ebba3c"/><rect x="1247.81" y="514.91" width="4.3" height="167.09" fill="#7eb56e"/><rect x="1253.72" y="498.8" width="4.3" height="16.68" fill="#ebba3c"/><rect x="1253.72" y="515.48" width="4.3" height="166.52" fill="#7eb56e"/><rect x="1259.62" y="498.8" width="4.3" height="19.77" fill="#ebba3c"/><rect x="1259.62" y="518.57" width="4.3" height="163.43" fill="#7eb56e"/><rect x="1265.52" y="498.8" width="4.3" height="20.92" fill="#ebba3c"/><rect x="1265.52" y="519.72" width="4.3" height="162.28" fill="#7eb56e"/><rect x="1271.42" y="498.8" width="4.3" height="18.4" fill="#ebba3c"/><rect x="1271.42" y="517.2" width="4.3" height="164.8" fill="#7eb56e"/><rect x="1277.33" y="498.8" width="4.3" height="15.19" fill="#ebba3c"/><rect x="1277.33" y="513.99" width="4.3" height="168.01" fill="#7eb56e"/><rect x="1283.23" y="498.8" width="4.3" height="16.91" fill="#ebba3c"/><rect x="1283.23" y="515.71" width="4.3" height="166.29" fill="#7eb56e"/><rect x="1289.13" y="498.8" width="4.3" height="16.34" fill="#ebba3c"/><rect x="1289.13" y="515.14" width="4.3" height="166.86" fill="#7eb56e"/><rect x="1295.04" y="498.8" width="4.3" height="14.96" fill="#ebba3c"/><rect x="1295.04" y="513.76" width="4.3" height="168.24" fill="#7eb56e"/><rect x="1300.94" y="498.8" width="4.3" height="18.74" fill="#ebba3c"/><rect x="1300.94" y="517.54" width="4.3" height="164.46" fill="#7eb56e"/><rect x="1306.84" y="498.8" width="4.3" height="21.61" fill="#ebba3c"/><rect x="1306.84" y="520.41" width="4.3" height="161.59" fill="#7eb56e"/><rect x="1312.75" y="498.8" width="4.3" height="23.33" fill="#ebba3c"/><rect x="1312.75" y="522.13" width="4.3" height="159.87" fill="#7eb56e"/><rect x="1318.65" y="498.8" width="4.3" height="20.12" fill="#ebba3c"/><rect x="1318.65" y="518.92" width="4.3" height="163.08" fill="#7eb56e"/><rect x="1324.55" y="498.8" width="4.3" height="18.4" fill="#ebba3c"/><rect x="1324.55" y="517.2" width="4.3" height="164.8" fill="#7eb56e"/><rect x="1330.46" y="498.8" width="4.3" height="19.32" fill="#ebba3c"/><rect x="1330.46" y="518.12" width="4.3" height="163.88" fill="#7eb56e"/><rect x="1336.36" y="498.8" width="4.3" height="19.2" fill="#ebba3c"/><rect x="1336.36" y="518" width="4.3" height="164" fill="#7eb56e"/><rect x="1342.26" y="498.8" width="4.3" height="19.32" fill="#ebba3c"/><rect x="1342.26" y="518.12" width="4.3" height="163.88" fill="#7eb56e"/><rect x="1348.17" y="498.8" width="4.3" height="17.25" fill="#ebba3c"/><rect x="1348.17" y="516.05" width="4.3" height="165.95" fill="#7eb56e"/><rect x="1354.07" y="498.8" width="4.3" height="18.05" fill="#ebba3c"/><rect x="1354.07" y="516.85" width="4.3" height="165.15" fill="#7eb56e"/><rect x="1359.97" y="498.8" width="4.3" height="19.2" fill="#ebba3c"/><rect x="1359.97" y="518" width="4.3" height="164" fill="#7eb56e"/><rect x="1365.87" y="498.8" width="4.3" height="20.69" fill="#ebba3c"/><rect x="1365.87" y="519.49" width="4.3" height="162.51" fill="#7eb56e"/><rect x="1371.78" y="498.8" width="4.3" height="19.54" fill="#ebba3c"/><rect x="1371.78" y="518.34" width="4.3" height="163.66" fill="#7eb56e"/><rect x="1377.68" y="498.8" width="4.3" height="16.91" fill="#ebba3c"/><rect x="1377.68" y="515.71" width="4.3" height="166.29" fill="#7eb56e"/><rect x="1383.58" y="498.8" width="4.3" height="18.05" fill="#ebba3c"/><rect x="1383.58" y="516.85" width="4.3" height="165.15" fill="#7eb56e"/><rect x="1389.49" y="498.8" width="4.3" height="18.4" fill="#ebba3c"/><rect x="1389.49" y="517.2" width="4.3" height="164.8" fill="#7eb56e"/><rect x="1395.39" y="498.8" width="4.3" height="18.97" fill="#ebba3c"/><rect x="1395.39" y="517.77" width="4.3" height="164.23" fill="#7eb56e"/><rect x="1401.29" y="498.8" width="4.3" height="18.05" fill="#ebba3c"/><rect x="1401.29" y="516.85" width="4.3" height="165.15" fill="#7eb56e"/><rect x="1407.2" y="498.8" width="4.3" height="17.48" fill="#ebba3c"/><rect x="1407.2" y="516.28" width="4.3" height="165.72" fill="#7eb56e"/><rect x="1413.1" y="498.8" width="4.3" height="17.83" fill="#ebba3c"/><rect x="1413.1" y="516.63" width="4.3" height="165.37" fill="#7eb56e"/><rect x="1419" y="498.8" width="4.3" height="17.25" fill="#ebba3c"/><rect x="1419" y="516.05" width="4.3" height="165.95" fill="#7eb56e"/><rect x="1424.91" y="498.8" width="4.3" height="15.76" fill="#ebba3c"/><rect x="1424.91" y="514.56" width="4.3" height="167.44" fill="#7eb56e"/><rect x="1430.81" y="498.8" width="4.3" height="15.19" fill="#ebba3c"/><rect x="1430.81" y="513.99" width="4.3" height="168.01" fill="#7eb56e"/><rect x="1436.71" y="498.8" width="4.3" height="16.91" fill="#ebba3c"/><rect x="1436.71" y="515.71" width="4.3" height="166.29" fill="#7eb56e"/><rect x="1442.62" y="498.8" width="4.3" height="20.69" fill="#ebba3c"/><rect x="1442.62" y="519.49" width="4.3" height="162.51" fill="#7eb56e"/><rect x="1448.52" y="498.8" width="4.3" height="22.64" fill="#ebba3c"/><rect x="1448.52" y="521.44" width="4.3" height="160.56" fill="#7eb56e"/><rect x="1454.42" y="498.8" width="4.3" height="18.63" fill="#ebba3c"/><rect x="1454.42" y="517.43" width="4.3" height="164.57" fill="#7eb56e"/><rect x="1460.32" y="498.8" width="4.3" height="18.74" fill="#ebba3c"/><rect x="1460.32" y="517.54" width="4.3" height="164.46" fill="#7eb56e"/><rect x="1466.23" y="498.8" width="4.3" height="18.97" fill="#ebba3c"/><rect x="1466.23" y="517.77" width="4.3" height="164.23" fill="#7eb56e"/><rect x="1472.13" y="498.8" width="4.3" height="18.97" fill="#ebba3c"/><rect x="1472.13" y="517.77" width="4.3" height="164.23" fill="#7eb56e"/><rect x="1478.03" y="498.8" width="4.3" height="19.54" fill="#ebba3c"/><rect x="1478.03" y="518.34" width="4.3" height="163.66" fill="#7eb56e"/><rect x="1483.94" y="498.8" width="4.3" height="20.92" fill="#ebba3c"/><rect x="1483.94" y="519.72" width="4.3" height="162.28" fill="#7eb56e"/><rect x="1489.84" y="498.8" width="4.3" height="20.12" fill="#ebba3c"/><rect x="1489.84" y="518.92" width="4.3" height="163.08" fill="#7eb56e"/><rect x="1495.74" y="498.8" width="4.3" height="16.45" fill="#ebba3c"/><rect x="1495.74" y="515.25" width="4.3" height="166.75" fill="#7eb56e"/><rect x="1501.65" y="498.8" width="4.3" height="18.4" fill="#ebba3c"/><rect x="1501.65" y="517.2" width="4.3" height="164.8" fill="#7eb56e"/><rect x="1507.55" y="498.8" width="4.3" height="19.54" fill="#ebba3c"/><rect x="1507.55" y="518.34" width="4.3" height="163.66" fill="#7eb56e"/><rect x="1513.45" y="498.8" width="4.3" height="18.63" fill="#ebba3c"/><rect x="1513.45" y="517.43" width="4.3" height="164.57" fill="#7eb56e"/><rect x="1519.36" y="498.8" width="4.3" height="18.17" fill="#ebba3c"/><rect x="1519.36" y="516.97" width="4.3" height="165.03" fill="#7eb56e"/><rect x="1525.26" y="498.8" width="4.3" height="17.83" fill="#ebba3c"/><rect x="1525.26" y="516.63" width="4.3" height="165.37" fill="#7eb56e"/><rect x="1531.16" y="498.8" width="4.3" height="19.54" fill="#ebba3c"/><rect x="1531.16" y="518.34" width="4.3" height="163.66" fill="#7eb56e"/><rect x="1537.07" y="498.8" width="4.3" height="19.54" fill="#ebba3c"/><rect x="1537.07" y="518.34" width="4.3" height="163.66" fill="#7eb56e"/><rect x="1542.97" y="498.8" width="4.3" height="19.2" fill="#ebba3c"/><rect x="1542.97" y="518" width="4.3" height="164" fill="#7eb56e"/><rect x="1548.87" y="498.8" width="4.3" height="21.84" fill="#ebba3c"/><rect x="1548.87" y="520.64" width="4.3" height="161.36" fill="#7eb56e"/><rect x="1554.77" y="498.8" width="4.3" height="19.77" fill="#ebba3c"/><rect x="1554.77" y="518.57" width="4.3" height="163.43" fill="#7eb56e"/><rect x="1560.68" y="498.8" width="4.3" height="19.77" fill="#ebba3c"/><rect x="1560.68" y="518.57" width="4.3" height="163.43" fill="#7eb56e"/><rect x="1566.58" y="498.8" width="4.3" height="18.4" fill="#ebba3c"/><rect x="1566.58" y="517.2" width="4.3" height="164.8" fill="#7eb56e"/><rect x="1572.48" y="498.8" width="4.3" height="17.83" fill="#ebba3c"/><rect x="1572.48" y="516.63" width="4.3" height="165.37" fill="#7eb56e"/><rect x="1578.39" y="498.8" width="4.3" height="17.6" fill="#ebba3c"/><rect x="1578.39" y="516.4" width="4.3" height="165.6" fill="#7eb56e"/><rect x="1584.29" y="498.8" width="4.3" height="14.39" fill="#ebba3c"/><rect x="1584.29" y="513.19" width="4.3" height="168.81" fill="#7eb56e"/><rect x="1590.19" y="498.8" width="4.3" height="19.54" fill="#ebba3c"/><rect x="1590.19" y="518.34" width="4.3" height="163.66" fill="#7eb56e"/><rect x="1596.1" y="498.8" width="4.3" height="20.92" fill="#ebba3c"/><rect x="1596.1" y="519.72" width="4.3" height="162.28" fill="#7eb56e"/><rect x="1602" y="498.8" width="4.3" height="19.77" fill="#ebba3c"/><rect x="1602" y="518.57" width="4.3" height="163.43" fill="#7eb56e"/><rect x="1607.9" y="498.8" width="4.3" height="17.83" fill="#ebba3c"/><rect x="1607.9" y="516.63" width="4.3" height="165.37" fill="#7eb56e"/><rect x="1613.81" y="498.8" width="4.3" height="17.6" fill="#ebba3c"/><rect x="1613.81" y="516.4" width="4.3" height="165.6" fill="#7eb56e"/><rect x="1619.71" y="498.8" width="4.3" height="18.63" fill="#ebba3c"/><rect x="1619.71" y="517.43" width="4.3" height="164.57" fill="#7eb56e"/><rect x="1625.61" y="498.8" width="4.3" height="18.74" fill="#ebba3c"/><rect x="1625.61" y="517.54" width="4.3" height="164.46" fill="#7eb56e"/><rect x="1631.52" y="498.8" width="4.3" height="21.61" fill="#ebba3c"/><rect x="1631.52" y="520.41" width="4.3" height="161.59" fill="#7eb56e"/><rect x="1637.42" y="498.8" width="4.3" height="20.69" fill="#ebba3c"/><rect x="1637.42" y="519.49" width="4.3" height="162.51" fill="#7eb56e"/><rect x="1643.32" y="498.8" width="4.3" height="16.91" fill="#ebba3c"/><rect x="1643.32" y="515.71" width="4.3" height="166.29" fill="#7eb56e"/><rect x="1649.23" y="498.8" width="4.3" height="17.83" fill="#ebba3c"/><rect x="1649.23" y="516.63" width="4.3" height="165.37" fill="#7eb56e"/><rect x="1655.13" y="498.8" width="4.3" height="17.6" fill="#ebba3c"/><rect x="1655.13" y="516.4" width="4.3" height="165.6" fill="#7eb56e"/><rect x="1661.03" y="498.8" width="4.3" height="17.83" fill="#ebba3c"/><rect x="1661.03" y="516.63" width="4.3" height="165.37" fill="#7eb56e"/><rect x="1666.93" y="498.8" width="4.3" height="17.83" fill="#ebba3c"/><rect x="1666.93" y="516.63" width="4.3" height="165.37" fill="#7eb56e"/><rect x="1672.84" y="498.8" width="4.3" height="14.96" fill="#ebba3c"/><rect x="1672.84" y="513.76" width="4.3" height="168.24" fill="#7eb56e"/><rect x="1678.74" y="498.8" width="4.3" height="16.68" fill="#ebba3c"/><rect x="1678.74" y="515.48" width="4.3" height="166.52" fill="#7eb56e"/><rect x="1684.64" y="498.8" width="4.3" height="18.63" fill="#ebba3c"/><rect x="1684.64" y="517.43" width="4.3" height="164.57" fill="#7eb56e"/><rect x="1690.55" y="498.8" width="4.3" height="17.25" fill="#ebba3c"/><rect x="1690.55" y="516.05" width="4.3" height="165.95" fill="#7eb56e"/><rect x="1696.45" y="498.8" width="4.3" height="17.6" fill="#ebba3c"/><rect x="1696.45" y="516.4" width="4.3" height="165.6" fill="#7eb56e"/><rect x="1702.35" y="498.8" width="4.3" height="19.32" fill="#ebba3c"/><rect x="1702.35" y="518.12" width="4.3" height="163.88" fill="#7eb56e"/><rect x="1708.26" y="498.8" width="4.3" height="19.77" fill="#ebba3c"/><rect x="1708.26" y="518.57" width="4.3" height="163.43" fill="#7eb56e"/><rect x="1714.16" y="498.8" width="4.3" height="18.4" fill="#ebba3c"/><rect x="1714.16" y="517.2" width="4.3" height="164.8" fill="#7eb56e"/><rect x="1720.06" y="498.8" width="4.3" height="19.54" fill="#ebba3c"/><rect x="1720.06" y="518.34" width="4.3" height="163.66" fill="#7eb56e"/><rect x="1725.97" y="498.8" width="4.3" height="20.69" fill="#ebba3c"/><rect x="1725.97" y="519.49" width="4.3" height="162.51" fill="#7eb56e"/><rect x="1731.87" y="498.8" width="4.3" height="17.25" fill="#ebba3c"/><rect x="1731.87" y="516.05" width="4.3" height="165.95" fill="#7eb56e"/><rect x="1737.77" y="498.8" width="4.3" height="17.83" fill="#ebba3c"/><rect x="1737.77" y="516.63" width="4.3" height="165.37" fill="#7eb56e"/><rect x="1743.68" y="498.8" width="4.3" height="19.77" fill="#ebba3c"/><rect x="1743.68" y="518.57" width="4.3" height="163.43" fill="#7eb56e"/><rect x="1749.58" y="498.8" width="4.3" height="20.46" fill="#ebba3c"/><rect x="1749.58" y="519.26" width="4.3" height="162.74" fill="#7eb56e"/><rect x="1755.48" y="498.8" width="4.3" height="18.74" fill="#ebba3c"/><rect x="1755.48" y="517.54" width="4.3" height="164.46" fill="#7eb56e"/><rect x="1761.38" y="498.8" width="4.3" height="16.45" fill="#ebba3c"/><rect x="1761.38" y="515.25" width="4.3" height="166.75" fill="#7eb56e"/><rect x="1767.29" y="498.8" width="4.3" height="16.68" fill="#ebba3c"/><rect x="1767.29" y="515.48" width="4.3" height="166.52" fill="#7eb56e"/><rect x="1773.19" y="498.8" width="4.3" height="20.46" fill="#ebba3c"/><rect x="1773.19" y="519.26" width="4.3" height="162.74" fill="#7eb56e"/><rect x="1779.09" y="498.8" width="4.3" height="18.05" fill="#ebba3c"/><rect x="1779.09" y="516.85" width="4.3" height="165.15" fill="#7eb56e"/><rect x="1785" y="498.8" width="4.3" height="16.34" fill="#ebba3c"/><rect x="1785" y="515.14" width="4.3" height="166.86" fill="#7eb56e"/><rect x="1790.9" y="498.8" width="4.3" height="16.91" fill="#ebba3c"/><rect x="1790.9" y="515.71" width="4.3" height="166.29" fill="#7eb56e"/><rect x="1796.8" y="498.8" width="4.3" height="16.68" fill="#ebba3c"/><rect x="1796.8" y="515.48" width="4.3" height="166.52" fill="#7eb56e"/><rect x="1802.71" y="498.8" width="4.3" height="17.25" fill="#ebba3c"/><rect x="1802.71" y="516.05" width="4.3" height="165.95" fill="#7eb56e"/><rect x="1808.61" y="498.8" width="4.3" height="18.05" fill="#ebba3c"/><rect x="1808.61" y="516.85" width="4.3" height="165.15" fill="#7eb56e"/><rect x="1814.51" y="498.8" width="4.3" height="17.25" fill="#ebba3c"/><rect x="1814.51" y="516.05" width="4.3" height="165.95" fill="#7eb56e"/><rect x="1820.42" y="498.8" width="4.3" height="17.83" fill="#ebba3c"/><rect x="1820.42" y="516.63" width="4.3" height="165.37" fill="#7eb56e"/><rect x="1826.32" y="498.8" width="4.3" height="17.83" fill="#ebba3c"/><rect x="1826.32" y="516.63" width="4.3" height="165.37" fill="#7eb56e"/><rect x="1832.22" y="498.8" width="4.3" height="16.45" fill="#ebba3c"/><rect x="1832.22" y="515.25" width="4.3" height="166.75" fill="#7eb56e"/><rect x="1838.13" y="498.8" width="4.3" height="14.96" fill="#ebba3c"/><rect x="1838.13" y="513.76" width="4.3" height="168.24" fill="#7eb56e"/><rect x="1844.03" y="498.8" width="4.3" height="16.11" fill="#ebba3c"/><rect x="1844.03" y="514.91" width="4.3" height="167.09" fill="#7eb56e"/><rect x="1849.93" y="498.8" width="4.3" height="20.46" fill="#ebba3c"/><rect x="1849.93" y="519.26" width="4.3" height="162.74" fill="#7eb56e"/><rect x="1855.83" y="498.8" width="4.3" height="21.26" fill="#ebba3c"/><rect x="1855.83" y="520.06" width="4.3" height="161.94" fill="#7eb56e"/><rect x="1861.74" y="498.8" width="4.3" height="19.32" fill="#ebba3c"/><rect x="1861.74" y="518.12" width="4.3" height="163.88" fill="#7eb56e"/><rect x="1867.64" y="498.8" width="4.3" height="16.68" fill="#ebba3c"/><rect x="1867.64" y="515.48" width="4.3" height="166.52" fill="#7eb56e"/><rect x="1873.54" y="498.8" width="4.3" height="19.77" fill="#ebba3c"/><rect x="1873.54" y="518.57" width="4.3" height="163.43" fill="#7eb56e"/></g>
<rect x="130" y="795" width="831" height="1" fill="#37393c"/>
<rect x="130" y="823" width="831" height="1" fill="#37393c"/>
<rect x="130" y="852" width="831" height="1" fill="#37393c"/>
<rect x="130" y="880" width="831" height="1" fill="#37393c"/>
<rect x="130" y="909" width="831" height="1" fill="#37393c"/>
<rect x="130" y="938" width="831" height="1" fill="#37393c"/>
<rect x="130" y="966" width="831" height="1" fill="#37393c"/>
<rect x="130" y="995" width="831" height="1" fill="#37393c"/>
<rect x="130" y="1024" width="831" height="1" fill="#37393c"/>
<rect x="228" y="795" width="1" height="230" fill="#37393c"/>
<text x="228.6" y="1043" text-anchor="middle" font-size="11" letter-spacing="0.3" fill="#c7d0d9">06:10</text>
<rect x="345" y="795" width="1" height="230" fill="#37393c"/>
<text x="345.3" y="1043" text-anchor="middle" font-size="11" letter-spacing="0.3" fill="#c7d0d9">06:15</text>
<rect x="461" y="795" width="1" height="230" fill="#37393c"/>
<text x="461.9" y="1043" text-anchor="middle" font-size="11" letter-spacing="0.3" fill="#c7d0d9">06:20</text>
<rect x="578" y="795" width="1" height="230" fill="#37393c"/>
<text x="578.6" y="1043" text-anchor="middle" font-size="11" letter-spacing="0.3" fill="#c7d0d9">06:25</text>
<rect x="695" y="795" width="1" height="230" fill="#37393c"/>
<text x="695.3" y="1043" text-anchor="middle" font-size="11" letter-spacing="0.3" fill="#c7d0d9">06:30</text>
<rect x="811" y="795" width="1" height="230" fill="#37393c"/>
<text x="811.9" y="1043" text-anchor="middle" font-size="11" letter-spacing="0.3" fill="#c7d0d9">06:35</text>
<rect x="928" y="795" width="1" height="230" fill="#37393c"/>
<text x="928.6" y="1043" text-anchor="middle" font-size="11" letter-spacing="0.3" fill="#c7d0d9">06:40</text>
<text x="125.3" y="799" text-anchor="end" font-size="11" letter-spacing="0.3" fill="#c7d0d9">4.0 s</text>
<text x="125.3" y="827" text-anchor="end" font-size="11" letter-spacing="0.3" fill="#c7d0d9">2.0 s</text>
<text x="125.3" y="856" text-anchor="end" font-size="11" letter-spacing="0.3" fill="#c7d0d9">1.0 s</text>
<text x="125.3" y="884" text-anchor="end" font-size="11" letter-spacing="0.3" fill="#c7d0d9">500 ms</text>
<text x="125.3" y="913" text-anchor="end" font-size="11" letter-spacing="0.3" fill="#c7d0d9">250 ms</text>
<text x="125.3" y="942" text-anchor="end" font-size="11" letter-spacing="0.3" fill="#c7d0d9">125 ms</text>
<text x="125.3" y="970" text-anchor="end" font-size="11" letter-spacing="0.3" fill="#c7d0d9">63 ms</text>
<text x="125.3" y="999" text-anchor="end" font-size="11" letter-spacing="0.3" fill="#c7d0d9">31 ms</text>
<text x="125.3" y="1028" text-anchor="end" font-size="11" letter-spacing="0.3" fill="#c7d0d9">16 ms</text>
<clipPath id="c5"><rect x="129" y="780" width="832" height="244.5"/></clipPath><clipPath id="c5f"><rect x="130" y="780" width="831" height="244.5"/></clipPath>
<g clip-path="url(#c5)"><path d="M129.5,858.4 L135.3,865.6 L141.1,948.2 L147,883.3 L152.8,825.6 L158.6,820.7 L164.5,822.9 L170.3,824.4 L176.1,826.2 L182,908.9 L187.8,910 L193.6,912.2 L199.5,913.8 L205.3,875.6 L211.1,858.9 L216.9,859.3 L222.8,866.7 L228.6,896.7 L234.4,910 L240.3,910 L246.1,907.8 L251.9,924 L257.8,892.2 L263.6,877.8 L269.4,864.4 L275.3,856.7 L281.1,881.1 L286.9,885.6 L292.8,862.2 L298.6,856.7 L304.4,863.3 L310.3,874 L316.1,877.1 L321.9,948.2 L327.8,950.4 L333.6,954.9 L339.4,863.3 L345.3,862.2 L351.1,912.2 L356.9,891.8 L362.8,898.9 L368.6,948.9 L374.4,872.7 L380.3,839.6 L386.1,834 L391.9,911.1 L397.8,919.3 L403.6,891.8 L409.4,872.7 L415.3,862.9 L421.1,865.6 L426.9,910 L432.8,917.3 L438.6,906.2 L444.4,903.8 L450.3,889.6 L456.1,855.1 L461.9,872.7 L467.8,885.6 L473.6,900 L479.4,897.8 L485.3,882.2 L491.1,867.8 L496.9,878.9 L502.8,932.2 L508.6,913.3 L514.4,861.8 L520.3,866.7 L526.1,892.2 L531.9,908.9 L537.8,922.2 L543.6,948.2 L549.4,869.3 L555.3,879.6 L561.1,910 L566.9,932.7 L572.8,934 L578.6,950 L584.4,950 L590.3,911.1 L596.1,846.7 L601.9,848.2 L607.8,862.2 L613.6,886.7 L619.4,893.8 L625.3,871.1 L631.1,864.4 L636.9,941.1 L642.8,875.1 L648.6,846.2 L654.4,852.2 L660.3,856.2 L666.1,871.1 L671.9,947.8 L677.8,891.6 L683.6,882.2 L689.4,868.2 L695.3,876.7 L701.1,857.3 L706.9,863.3 L712.7,886.7 L718.6,909.6 L724.4,910 L730.2,912.2 L736.1,878.9 L741.9,891.1 L747.7,893.3 L753.6,886 L759.4,910.4 L765.2,909.6 L771.1,889.6 L776.9,898.2 L782.7,945.6 L788.6,885.6 L794.4,834 L800.2,839.3 L806.1,870 L811.9,886.7 L817.7,886.7 L823.6,882.9 L829.4,883.8 L835.2,918.2 L841.1,864.4 L846.9,870 L852.7,882.2 L858.6,874 L864.4,910 L870.2,870 L876.1,887.8 L881.9,870.7 L887.7,872.9 L893.6,881.6 L899.4,867.1 L905.2,865.1 L911.1,859.6 L916.9,860 L922.7,878.4 L928.6,866.7 L934.4,831.8 L940.2,835.6 L946.1,918.4 L951.9,932.9 L957.7,928.9 L957.7,1024.5 L129.5,1024.5 Z" fill="#7eb26d" fill-opacity="0.1" clip-path="url(#c5f)"/><path d="M129.5,924.4 L135.3,955.6 L141.1,961.1 L147,914.4 L152.8,856.2 L158.6,854 L164.5,882.2 L170.3,885.1 L176.1,885.1 L182,950.4 L187.8,948.9 L193.6,947.8 L199.5,946.7 L205.3,942.2 L211.1,903.3 L216.9,903.3 L222.8,951.1 L228.6,952.9 L234.4,938.2 L240.3,940 L246.1,951.1 L251.9,957.8 L257.8,952.2 L263.6,947.8 L269.4,938.2 L275.3,953.3 L281.1,918.9 L286.9,918.9 L292.8,901.1 L298.6,896.2 L304.4,913.3 L310.3,958.9 L316.1,968.9 L321.9,975.6 L327.8,973.3 L333.6,980 L339.4,919.6 L345.3,917.8 L351.1,964.4 L356.9,957.8 L362.8,960 L368.6,971.1 L374.4,897.1 L380.3,887.3 L386.1,897.8 L391.9,951.8 L397.8,952.2 L403.6,945.6 L409.4,928.9 L415.3,911.6 L421.1,912.2 L426.9,926.7 L432.8,950.4 L438.6,951.1 L444.4,951.6 L450.3,952.2 L456.1,894 L461.9,893.8 L467.8,913.3 L473.6,957.1 L479.4,951.8 L485.3,924.9 L491.1,922.7 L496.9,935.6 L502.8,956 L508.6,953.3 L514.4,953.3 L520.3,957.8 L526.1,952.2 L531.9,950.7 L537.8,954.4 L543.6,957.1 L549.4,916.7 L555.3,915.6 L561.1,940 L566.9,960.7 L572.8,961.8 L578.6,966.7 L584.4,965.6 L590.3,924 L596.1,911.1 L601.9,907.3 L607.8,948.9 L613.6,954 L619.4,924.4 L625.3,912.9 L631.1,912.7 L636.9,955.6 L642.8,952.9 L648.6,895.1 L654.4,898.9 L660.3,912.2 L666.1,948.9 L671.9,960 L677.8,948.9 L683.6,926.7 L689.4,929.3 L695.3,948.2 L701.1,946.7 L706.9,911.8 L712.7,912.9 L718.6,953.3 L724.4,951.8 L730.2,951.1 L736.1,947.8 L741.9,912.7 L747.7,913.6 L753.6,949.6 L759.4,915.1 L765.2,914.9 L771.1,922.9 L776.9,951.8 L782.7,953.3 L788.6,889.6 L794.4,882.9 L800.2,884.9 L806.1,935.6 L811.9,950 L817.7,960.4 L823.6,950.4 L829.4,950 L835.2,953.3 L841.1,886.2 L846.9,888.2 L852.7,921.1 L858.6,952.9 L864.4,960 L870.2,971.1 L876.1,958.4 L881.9,949.6 L887.7,912.7 L893.6,913.8 L899.4,917.1 L905.2,911.1 L911.1,887.1 L916.9,887.8 L922.7,951.1 L928.6,948.4 L934.4,913.3 L940.2,918.2 L946.1,956.2 L951.9,956.7 L957.7,954 L957.7,1024.5 L129.5,1024.5 Z" fill="#eab839" fill-opacity="0.1" clip-path="url(#c5f)"/><path d="M129.5,964.4 L135.3,977.3 L141.1,978.2 L147,934.4 L152.8,866.2 L158.6,865.1 L164.5,891.1 L170.3,897.8 L176.1,898.9 L182,964 L187.8,957.8 L193.6,953.3 L199.5,951.6 L205.3,952.9 L211.1,952.4 L216.9,954 L222.8,969.3 L228.6,966.7 L234.4,953.3 L240.3,954 L246.1,965.6 L251.9,977.1 L257.8,966.7 L263.6,956.2 L269.4,954.4 L275.3,971.1 L281.1,948.2 L286.9,948.2 L292.8,914 L298.6,912.2 L304.4,921.1 L310.3,976.7 L316.1,983.3 L321.9,986 L327.8,982.9 L333.6,991.8 L339.4,946.7 L345.3,941.1 L351.1,980 L356.9,977.8 L362.8,978.4 L368.6,982.9 L374.4,917.1 L380.3,908.9 L386.1,949.6 L391.9,964.4 L397.8,963.3 L403.6,955.6 L409.4,954.9 L415.3,928.2 L421.1,924 L426.9,949.6 L432.8,958.9 L438.6,961.1 L444.4,962.9 L450.3,965.6 L456.1,937.8 L461.9,913.8 L467.8,936.7 L473.6,976.2 L479.4,976.7 L485.3,950.4 L491.1,948.9 L496.9,951.6 L502.8,971.6 L508.6,965.6 L514.4,969.6 L520.3,977.3 L526.1,966.7 L531.9,965.6 L537.8,968.9 L543.6,972.2 L549.4,948.9 L555.3,944 L561.1,955.6 L566.9,978.4 L572.8,979.6 L578.6,982.9 L584.4,984.4 L590.3,950 L596.1,920.7 L601.9,921.6 L607.8,967.8 L613.6,971.1 L619.4,946.7 L625.3,921.8 L631.1,921.6 L636.9,969.6 L642.8,967.3 L648.6,918.9 L654.4,916 L660.3,922.2 L666.1,957.8 L671.9,977.8 L677.8,957.1 L683.6,951.6 L689.4,953.3 L695.3,954.9 L701.1,953.3 L706.9,922.7 L712.7,922.7 L718.6,964.9 L724.4,961.6 L730.2,960.7 L736.1,953.3 L741.9,919.3 L747.7,920.7 L753.6,962.9 L759.4,922.7 L765.2,923.3 L771.1,948.9 L776.9,960.7 L782.7,961.8 L788.6,900 L794.4,890.4 L800.2,911.8 L806.1,954.4 L811.9,960 L817.7,979.3 L823.6,964.9 L829.4,960.7 L835.2,964 L841.1,897.8 L846.9,900.4 L852.7,948.9 L858.6,968.9 L864.4,977.1 L870.2,984 L876.1,978.9 L881.9,966.7 L887.7,922.7 L893.6,923.3 L899.4,932.7 L905.2,920 L911.1,910 L916.9,910 L922.7,966 L928.6,961.1 L934.4,926.7 L940.2,936.7 L946.1,973.8 L951.9,975.1 L957.7,966.2 L957.7,1024.5 L129.5,1024.5 Z" fill="#6ed0e0" fill-opacity="0.1" clip-path="url(#c5f)"/><path d="M129.5,996.7 L135.3,1005.6 L141.1,1002.2 L147,980 L152.8,892.7 L158.6,889.6 L164.5,923.3 L170.3,928.9 L176.1,946.7 L182,988.4 L187.8,982.2 L193.6,973.3 L199.5,968.4 L205.3,976.7 L211.1,985.6 L216.9,986.2 L222.8,1002.9 L228.6,991.1 L234.4,979.3 L240.3,980 L246.1,987.3 L251.9,1002.2 L257.8,992.2 L263.6,982.9 L269.4,983.3 L275.3,1004.4 L281.1,980 L286.9,977.3 L292.8,936.7 L298.6,925.1 L304.4,950 L310.3,998.9 L316.1,1006.7 L321.9,1007.3 L327.8,1006 L333.6,1008.4 L339.4,977.3 L345.3,972.7 L351.1,1004.4 L356.9,994.4 L362.8,1000.7 L368.6,1006.7 L374.4,980 L380.3,962.2 L386.1,986 L391.9,987.8 L397.8,988.9 L403.6,983.3 L409.4,985.1 L415.3,973.3 L421.1,961.1 L426.9,979.3 L432.8,982.9 L438.6,984 L444.4,985.6 L450.3,988.9 L456.1,980.7 L461.9,954.4 L467.8,976.7 L473.6,997.8 L479.4,1005.6 L485.3,978.9 L491.1,968.9 L496.9,977.3 L502.8,996.7 L508.6,989.6 L514.4,990 L520.3,997.8 L526.1,992.7 L531.9,994.4 L537.8,990.4 L543.6,992.2 L549.4,975.6 L555.3,968.2 L561.1,982.9 L566.9,1004.4 L572.8,1005.6 L578.6,1007.3 L584.4,1008.4 L590.3,981.1 L596.1,953.3 L601.9,960 L607.8,999.3 L613.6,997.3 L619.4,976.7 L625.3,955.1 L631.1,956.2 L636.9,991.8 L642.8,990 L648.6,960.7 L654.4,948.2 L660.3,957.8 L666.1,991.8 L671.9,1005.1 L677.8,982.9 L683.6,977.8 L689.4,980.7 L695.3,978.9 L701.1,976.2 L706.9,958.9 L712.7,964.4 L718.6,986.7 L724.4,985.6 L730.2,987.8 L736.1,976.7 L741.9,947.1 L747.7,950 L753.6,994 L759.4,951.6 L765.2,952.2 L771.1,976.7 L776.9,984 L782.7,984.9 L788.6,962.2 L794.4,930.4 L800.2,971.1 L806.1,985.6 L811.9,993.3 L817.7,1005.6 L823.6,991.8 L829.4,986.2 L835.2,988.9 L841.1,946.2 L846.9,943.3 L852.7,978.9 L858.6,998.2 L864.4,1005.1 L870.2,1007.1 L876.1,1005.1 L881.9,990 L887.7,957.3 L893.6,955.1 L899.4,960.7 L905.2,949.6 L911.1,940 L916.9,960.7 L922.7,996.7 L928.6,990.7 L934.4,967.8 L940.2,977.8 L946.1,1004.4 L951.9,993.3 L957.7,987.3 L957.7,1024.5 L129.5,1024.5 Z" fill="#ef843c" fill-opacity="0.1" clip-path="url(#c5f)"/><path d="M129.5,1014.9 L135.3,1017.1 L141.1,1015.6 L147,1010.4 L152.8,936.7 L158.6,930 L164.5,985.1 L170.3,982.9 L176.1,998.9 L182,1011.6 L187.8,1008.9 L193.6,1000 L199.5,994.9 L205.3,1005.1 L211.1,1010.4 L216.9,1011.1 L222.8,1015.1 L228.6,1012.9 L234.4,1007.8 L240.3,1007.8 L246.1,1010.4 L251.9,1014.9 L257.8,1013.3 L263.6,1010.4 L269.4,1011.6 L275.3,1016 L281.1,1008.4 L286.9,1006.2 L292.8,983.3 L298.6,957.8 L304.4,1004.9 L310.3,1014.4 L316.1,1017.1 L321.9,1017.8 L327.8,1017.1 L333.6,1018.9 L339.4,1010.7 L345.3,1010.4 L351.1,1015.1 L356.9,1012.9 L362.8,1014.4 L368.6,1017.1 L374.4,1011.8 L380.3,1010 L386.1,1011.1 L391.9,1010.7 L397.8,1011.8 L403.6,1010.4 L409.4,1010.7 L415.3,1007.8 L421.1,1001.1 L426.9,1008.9 L432.8,1009.6 L438.6,1008.9 L444.4,1009.3 L450.3,1011.6 L456.1,1010 L461.9,993.8 L467.8,1005.6 L473.6,1013.8 L479.4,1015.6 L485.3,1008.9 L491.1,1001.6 L496.9,1006.2 L502.8,1014 L508.6,1011.8 L514.4,1011.8 L520.3,1014 L526.1,1013.3 L531.9,1013.3 L537.8,1011.8 L543.6,1011.8 L549.4,1005.6 L555.3,999.3 L561.1,1009.6 L566.9,1014.9 L572.8,1015.6 L578.6,1017.3 L584.4,1018.4 L590.3,1011.8 L596.1,988.2 L601.9,1001.1 L607.8,1014.4 L613.6,1013.8 L619.4,1005.6 L625.3,992.2 L631.1,1001.8 L636.9,1012.7 L642.8,1011.8 L648.6,996.7 L654.4,983.8 L660.3,997.8 L666.1,1012.9 L671.9,1016 L677.8,1008.9 L683.6,1005.1 L689.4,1007.8 L695.3,1006.2 L701.1,1003.3 L706.9,995.6 L712.7,1005.1 L718.6,1010.4 L724.4,1010.4 L730.2,1011.8 L736.1,1007.3 L741.9,990 L747.7,1002.9 L753.6,1013.8 L759.4,993.3 L765.2,986 L771.1,1006.7 L776.9,1009.6 L782.7,1010 L788.6,1009.3 L794.4,991.6 L800.2,1008.4 L806.1,1011.8 L811.9,1014 L817.7,1016.2 L823.6,1012.9 L829.4,1011.1 L835.2,1011.8 L841.1,993.8 L846.9,989.6 L852.7,1009.6 L858.6,1014.4 L864.4,1016.2 L870.2,1017.8 L876.1,1016.2 L881.9,1012.2 L887.7,1001.1 L893.6,996 L899.4,991.8 L905.2,980.7 L911.1,983.8 L916.9,1007.8 L922.7,1014 L928.6,1013.3 L934.4,1005.6 L940.2,1008.2 L946.1,1015.6 L951.9,1012.2 L957.7,1010 L957.7,1024.5 L129.5,1024.5 Z" fill="#e24d42" fill-opacity="0.1" clip-path="url(#c5f)"/><path d="M129.5,858.4 L135.3,865.6 L141.1,948.2 L147,883.3 L152.8,825.6 L158.6,820.7 L164.5,822.9 L170.3,824.4 L176.1,826.2 L182,908.9 L187.8,910 L193.6,912.2 L199.5,913.8 L205.3,875.6 L211.1,858.9 L216.9,859.3 L222.8,866.7 L228.6,896.7 L234.4,910 L240.3,910 L246.1,907.8 L251.9,924 L257.8,892.2 L263.6,877.8 L269.4,864.4 L275.3,856.7 L281.1,881.1 L286.9,885.6 L292.8,862.2 L298.6,856.7 L304.4,863.3 L310.3,874 L316.1,877.1 L321.9,948.2 L327.8,950.4 L333.6,954.9 L339.4,863.3 L345.3,862.2 L351.1,912.2 L356.9,891.8 L362.8,898.9 L368.6,948.9 L374.4,872.7 L380.3,839.6 L386.1,834 L391.9,911.1 L397.8,919.3 L403.6,891.8 L409.4,872.7 L415.3,862.9 L421.1,865.6 L426.9,910 L432.8,917.3 L438.6,906.2 L444.4,903.8 L450.3,889.6 L456.1,855.1 L461.9,872.7 L467.8,885.6 L473.6,900 L479.4,897.8 L485.3,882.2 L491.1,867.8 L496.9,878.9 L502.8,932.2 L508.6,913.3 L514.4,861.8 L520.3,866.7 L526.1,892.2 L531.9,908.9 L537.8,922.2 L543.6,948.2 L549.4,869.3 L555.3,879.6 L561.1,910 L566.9,932.7 L572.8,934 L578.6,950 L584.4,950 L590.3,911.1 L596.1,846.7 L601.9,848.2 L607.8,862.2 L613.6,886.7 L619.4,893.8 L625.3,871.1 L631.1,864.4 L636.9,941.1 L642.8,875.1 L648.6,846.2 L654.4,852.2 L660.3,856.2 L666.1,871.1 L671.9,947.8 L677.8,891.6 L683.6,882.2 L689.4,868.2 L695.3,876.7 L701.1,857.3 L706.9,863.3 L712.7,886.7 L718.6,909.6 L724.4,910 L730.2,912.2 L736.1,878.9 L741.9,891.1 L747.7,893.3 L753.6,886 L759.4,910.4 L765.2,909.6 L771.1,889.6 L776.9,898.2 L782.7,945.6 L788.6,885.6 L794.4,834 L800.2,839.3 L806.1,870 L811.9,886.7 L817.7,886.7 L823.6,882.9 L829.4,883.8 L835.2,918.2 L841.1,864.4 L846.9,870 L852.7,882.2 L858.6,874 L864.4,910 L870.2,870 L876.1,887.8 L881.9,870.7 L887.7,872.9 L893.6,881.6 L899.4,867.1 L905.2,865.1 L911.1,859.6 L916.9,860 L922.7,878.4 L928.6,866.7 L934.4,831.8 L940.2,835.6 L946.1,918.4 L951.9,932.9 L957.7,928.9" fill="none" stroke="#7eb26d" stroke-width="2" stroke-linejoin="round"/><path d="M129.5,924.4 L135.3,955.6 L141.1,961.1 L147,914.4 L152.8,856.2 L158.6,854 L164.5,882.2 L170.3,885.1 L176.1,885.1 L182,950.4 L187.8,948.9 L193.6,947.8 L199.5,946.7 L205.3,942.2 L211.1,903.3 L216.9,903.3 L222.8,951.1 L228.6,952.9 L234.4,938.2 L240.3,940 L246.1,951.1 L251.9,957.8 L257.8,952.2 L263.6,947.8 L269.4,938.2 L275.3,953.3 L281.1,918.9 L286.9,918.9 L292.8,901.1 L298.6,896.2 L304.4,913.3 L310.3,958.9 L316.1,968.9 L321.9,975.6 L327.8,973.3 L333.6,980 L339.4,919.6 L345.3,917.8 L351.1,964.4 L356.9,957.8 L362.8,960 L368.6,971.1 L374.4,897.1 L380.3,887.3 L386.1,897.8 L391.9,951.8 L397.8,952.2 L403.6,945.6 L409.4,928.9 L415.3,911.6 L421.1,912.2 L426.9,926.7 L432.8,950.4 L438.6,951.1 L444.4,951.6 L450.3,952.2 L456.1,894 L461.9,893.8 L467.8,913.3 L473.6,957.1 L479.4,951.8 L485.3,924.9 L491.1,922.7 L496.9,935.6 L502.8,956 L508.6,953.3 L514.4,953.3 L520.3,957.8 L526.1,952.2 L531.9,950.7 L537.8,954.4 L543.6,957.1 L549.4,916.7 L555.3,915.6 L561.1,940 L566.9,960.7 L572.8,961.8 L578.6,966.7 L584.4,965.6 L590.3,924 L596.1,911.1 L601.9,907.3 L607.8,948.9 L613.6,954 L619.4,924.4 L625.3,912.9 L631.1,912.7 L636.9,955.6 L642.8,952.9 L648.6,895.1 L654.4,898.9 L660.3,912.2 L666.1,948.9 L671.9,960 L677.8,948.9 L683.6,926.7 L689.4,929.3 L695.3,948.2 L701.1,946.7 L706.9,911.8 L712.7,912.9 L718.6,953.3 L724.4,951.8 L730.2,951.1 L736.1,947.8 L741.9,912.7 L747.7,913.6 L753.6,949.6 L759.4,915.1 L765.2,914.9 L771.1,922.9 L776.9,951.8 L782.7,953.3 L788.6,889.6 L794.4,882.9 L800.2,884.9 L806.1,935.6 L811.9,950 L817.7,960.4 L823.6,950.4 L829.4,950 L835.2,953.3 L841.1,886.2 L846.9,888.2 L852.7,921.1 L858.6,952.9 L864.4,960 L870.2,971.1 L876.1,958.4 L881.9,949.6 L887.7,912.7 L893.6,913.8 L899.4,917.1 L905.2,911.1 L911.1,887.1 L916.9,887.8 L922.7,951.1 L928.6,948.4 L934.4,913.3 L940.2,918.2 L946.1,956.2 L951.9,956.7 L957.7,954" fill="none" stroke="#eab839" stroke-width="2" stroke-linejoin="round"/><path d="M129.5,964.4 L135.3,977.3 L141.1,978.2 L147,934.4 L152.8,866.2 L158.6,865.1 L164.5,891.1 L170.3,897.8 L176.1,898.9 L182,964 L187.8,957.8 L193.6,953.3 L199.5,951.6 L205.3,952.9 L211.1,952.4 L216.9,954 L222.8,969.3 L228.6,966.7 L234.4,953.3 L240.3,954 L246.1,965.6 L251.9,977.1 L257.8,966.7 L263.6,956.2 L269.4,954.4 L275.3,971.1 L281.1,948.2 L286.9,948.2 L292.8,914 L298.6,912.2 L304.4,921.1 L310.3,976.7 L316.1,983.3 L321.9,986 L327.8,982.9 L333.6,991.8 L339.4,946.7 L345.3,941.1 L351.1,980 L356.9,977.8 L362.8,978.4 L368.6,982.9 L374.4,917.1 L380.3,908.9 L386.1,949.6 L391.9,964.4 L397.8,963.3 L403.6,955.6 L409.4,954.9 L415.3,928.2 L421.1,924 L426.9,949.6 L432.8,958.9 L438.6,961.1 L444.4,962.9 L450.3,965.6 L456.1,937.8 L461.9,913.8 L467.8,936.7 L473.6,976.2 L479.4,976.7 L485.3,950.4 L491.1,948.9 L496.9,951.6 L502.8,971.6 L508.6,965.6 L514.4,969.6 L520.3,977.3 L526.1,966.7 L531.9,965.6 L537.8,968.9 L543.6,972.2 L549.4,948.9 L555.3,944 L561.1,955.6 L566.9,978.4 L572.8,979.6 L578.6,982.9 L584.4,984.4 L590.3,950 L596.1,920.7 L601.9,921.6 L607.8,967.8 L613.6,971.1 L619.4,946.7 L625.3,921.8 L631.1,921.6 L636.9,969.6 L642.8,967.3 L648.6,918.9 L654.4,916 L660.3,922.2 L666.1,957.8 L671.9,977.8 L677.8,957.1 L683.6,951.6 L689.4,953.3 L695.3,954.9 L701.1,953.3 L706.9,922.7 L712.7,922.7 L718.6,964.9 L724.4,961.6 L730.2,960.7 L736.1,953.3 L741.9,919.3 L747.7,920.7 L753.6,962.9 L759.4,922.7 L765.2,923.3 L771.1,948.9 L776.9,960.7 L782.7,961.8 L788.6,900 L794.4,890.4 L800.2,911.8 L806.1,954.4 L811.9,960 L817.7,979.3 L823.6,964.9 L829.4,960.7 L835.2,964 L841.1,897.8 L846.9,900.4 L852.7,948.9 L858.6,968.9 L864.4,977.1 L870.2,984 L876.1,978.9 L881.9,966.7 L887.7,922.7 L893.6,923.3 L899.4,932.7 L905.2,920 L911.1,910 L916.9,910 L922.7,966 L928.6,961.1 L934.4,926.7 L940.2,936.7 L946.1,973.8 L951.9,975.1 L957.7,966.2" fill="none" stroke="#6ed0e0" stroke-width="2" stroke-linejoin="round"/><path d="M129.5,996.7 L135.3,1005.6 L141.1,1002.2 L147,980 L152.8,892.7 L158.6,889.6 L164.5,923.3 L170.3,928.9 L176.1,946.7 L182,988.4 L187.8,982.2 L193.6,973.3 L199.5,968.4 L205.3,976.7 L211.1,985.6 L216.9,986.2 L222.8,1002.9 L228.6,991.1 L234.4,979.3 L240.3,980 L246.1,987.3 L251.9,1002.2 L257.8,992.2 L263.6,982.9 L269.4,983.3 L275.3,1004.4 L281.1,980 L286.9,977.3 L292.8,936.7 L298.6,925.1 L304.4,950 L310.3,998.9 L316.1,1006.7 L321.9,1007.3 L327.8,1006 L333.6,1008.4 L339.4,977.3 L345.3,972.7 L351.1,1004.4 L356.9,994.4 L362.8,1000.7 L368.6,1006.7 L374.4,980 L380.3,962.2 L386.1,986 L391.9,987.8 L397.8,988.9 L403.6,983.3 L409.4,985.1 L415.3,973.3 L421.1,961.1 L426.9,979.3 L432.8,982.9 L438.6,984 L444.4,985.6 L450.3,988.9 L456.1,980.7 L461.9,954.4 L467.8,976.7 L473.6,997.8 L479.4,1005.6 L485.3,978.9 L491.1,968.9 L496.9,977.3 L502.8,996.7 L508.6,989.6 L514.4,990 L520.3,997.8 L526.1,992.7 L531.9,994.4 L537.8,990.4 L543.6,992.2 L549.4,975.6 L555.3,968.2 L561.1,982.9 L566.9,1004.4 L572.8,1005.6 L578.6,1007.3 L584.4,1008.4 L590.3,981.1 L596.1,953.3 L601.9,960 L607.8,999.3 L613.6,997.3 L619.4,976.7 L625.3,955.1 L631.1,956.2 L636.9,991.8 L642.8,990 L648.6,960.7 L654.4,948.2 L660.3,957.8 L666.1,991.8 L671.9,1005.1 L677.8,982.9 L683.6,977.8 L689.4,980.7 L695.3,978.9 L701.1,976.2 L706.9,958.9 L712.7,964.4 L718.6,986.7 L724.4,985.6 L730.2,987.8 L736.1,976.7 L741.9,947.1 L747.7,950 L753.6,994 L759.4,951.6 L765.2,952.2 L771.1,976.7 L776.9,984 L782.7,984.9 L788.6,962.2 L794.4,930.4 L800.2,971.1 L806.1,985.6 L811.9,993.3 L817.7,1005.6 L823.6,991.8 L829.4,986.2 L835.2,988.9 L841.1,946.2 L846.9,943.3 L852.7,978.9 L858.6,998.2 L864.4,1005.1 L870.2,1007.1 L876.1,1005.1 L881.9,990 L887.7,957.3 L893.6,955.1 L899.4,960.7 L905.2,949.6 L911.1,940 L916.9,960.7 L922.7,996.7 L928.6,990.7 L934.4,967.8 L940.2,977.8 L946.1,1004.4 L951.9,993.3 L957.7,987.3" fill="none" stroke="#ef843c" stroke-width="2" stroke-linejoin="round"/><path d="M129.5,1014.9 L135.3,1017.1 L141.1,1015.6 L147,1010.4 L152.8,936.7 L158.6,930 L164.5,985.1 L170.3,982.9 L176.1,998.9 L182,1011.6 L187.8,1008.9 L193.6,1000 L199.5,994.9 L205.3,1005.1 L211.1,1010.4 L216.9,1011.1 L222.8,1015.1 L228.6,1012.9 L234.4,1007.8 L240.3,1007.8 L246.1,1010.4 L251.9,1014.9 L257.8,1013.3 L263.6,1010.4 L269.4,1011.6 L275.3,1016 L281.1,1008.4 L286.9,1006.2 L292.8,983.3 L298.6,957.8 L304.4,1004.9 L310.3,1014.4 L316.1,1017.1 L321.9,1017.8 L327.8,1017.1 L333.6,1018.9 L339.4,1010.7 L345.3,1010.4 L351.1,1015.1 L356.9,1012.9 L362.8,1014.4 L368.6,1017.1 L374.4,1011.8 L380.3,1010 L386.1,1011.1 L391.9,1010.7 L397.8,1011.8 L403.6,1010.4 L409.4,1010.7 L415.3,1007.8 L421.1,1001.1 L426.9,1008.9 L432.8,1009.6 L438.6,1008.9 L444.4,1009.3 L450.3,1011.6 L456.1,1010 L461.9,993.8 L467.8,1005.6 L473.6,1013.8 L479.4,1015.6 L485.3,1008.9 L491.1,1001.6 L496.9,1006.2 L502.8,1014 L508.6,1011.8 L514.4,1011.8 L520.3,1014 L526.1,1013.3 L531.9,1013.3 L537.8,1011.8 L543.6,1011.8 L549.4,1005.6 L555.3,999.3 L561.1,1009.6 L566.9,1014.9 L572.8,1015.6 L578.6,1017.3 L584.4,1018.4 L590.3,1011.8 L596.1,988.2 L601.9,1001.1 L607.8,1014.4 L613.6,1013.8 L619.4,1005.6 L625.3,992.2 L631.1,1001.8 L636.9,1012.7 L642.8,1011.8 L648.6,996.7 L654.4,983.8 L660.3,997.8 L666.1,1012.9 L671.9,1016 L677.8,1008.9 L683.6,1005.1 L689.4,1007.8 L695.3,1006.2 L701.1,1003.3 L706.9,995.6 L712.7,1005.1 L718.6,1010.4 L724.4,1010.4 L730.2,1011.8 L736.1,1007.3 L741.9,990 L747.7,1002.9 L753.6,1013.8 L759.4,993.3 L765.2,986 L771.1,1006.7 L776.9,1009.6 L782.7,1010 L788.6,1009.3 L794.4,991.6 L800.2,1008.4 L806.1,1011.8 L811.9,1014 L817.7,1016.2 L823.6,1012.9 L829.4,1011.1 L835.2,1011.8 L841.1,993.8 L846.9,989.6 L852.7,1009.6 L858.6,1014.4 L864.4,1016.2 L870.2,1017.8 L876.1,1016.2 L881.9,1012.2 L887.7,1001.1 L893.6,996 L899.4,991.8 L905.2,980.7 L911.1,983.8 L916.9,1007.8 L922.7,1014 L928.6,1013.3 L934.4,1005.6 L940.2,1008.2 L946.1,1015.6 L951.9,1012.2 L957.7,1010" fill="none" stroke="#e24d42" stroke-width="2" stroke-linejoin="round"/></g>
<rect x="1074" y="855" width="2.7" height="16.6" fill="#000004"/><rect x="1079.1" y="855" width="20.2" height="16.6" fill="#000004"/><rect x="1101.7" y="855" width="20.2" height="16.6" fill="#000004"/><rect x="1124.3" y="855" width="20.2" height="16.6" fill="#000004"/><rect x="1147" y="855" width="20.2" height="16.6" fill="#000004"/><rect x="1169.6" y="855" width="20.2" height="16.6" fill="#000004"/><rect x="1192.2" y="855" width="20.2" height="16.6" fill="#000004"/><rect x="1214.9" y="855" width="20.2" height="16.6" fill="#000004"/><rect x="1237.5" y="855" width="20.2" height="16.6" fill="#000004"/><rect x="1260.1" y="855" width="20.2" height="16.6" fill="#000004"/><rect x="1282.7" y="855" width="20.2" height="16.6" fill="#000004"/><rect x="1305.4" y="855" width="20.2" height="16.6" fill="#000004"/><rect x="1328" y="855" width="20.2" height="16.6" fill="#000004"/><rect x="1350.6" y="855" width="20.2" height="16.6" fill="#000004"/><rect x="1373.3" y="855" width="20.2" height="16.6" fill="#000004"/><rect x="1395.9" y="855" width="20.2" height="16.6" fill="#000004"/><rect x="1418.5" y="855" width="20.2" height="16.6" fill="#000004"/><rect x="1441.2" y="855" width="20.2" height="16.6" fill="#000004"/><rect x="1463.8" y="855" width="20.2" height="16.6" fill="#000004"/><rect x="1486.4" y="855" width="20.2" height="16.6" fill="#000004"/><rect x="1509" y="855" width="20.2" height="16.6" fill="#000004"/><rect x="1531.7" y="855" width="20.2" height="16.6" fill="#000004"/><rect x="1554.3" y="855" width="20.2" height="16.6" fill="#000004"/><rect x="1576.9" y="855" width="20.2" height="16.6" fill="#000004"/><rect x="1599.6" y="855" width="20.2" height="16.6" fill="#000004"/><rect x="1622.2" y="855" width="20.2" height="16.6" fill="#000004"/><rect x="1644.8" y="855" width="20.2" height="16.6" fill="#000004"/><rect x="1667.5" y="855" width="20.2" height="16.6" fill="#000004"/><rect x="1690.1" y="855" width="20.2" height="16.6" fill="#000004"/><rect x="1712.7" y="855" width="20.2" height="16.6" fill="#000004"/><rect x="1735.3" y="855" width="20.2" height="16.6" fill="#000004"/><rect x="1758" y="855" width="20.2" height="16.6" fill="#000004"/><rect x="1780.6" y="855" width="20.2" height="16.6" fill="#000004"/><rect x="1803.2" y="855" width="20.2" height="16.6" fill="#000004"/><rect x="1871.1" y="855" width="8.9" height="16.6" fill="#000004"/><rect x="1074" y="874.2" width="2.7" height="16.6" fill="#000004"/><rect x="1079.1" y="874.2" width="20.2" height="16.6" fill="#000004"/><rect x="1101.7" y="874.2" width="20.2" height="16.6" fill="#040312"/><rect x="1124.3" y="874.2" width="20.2" height="16.6" fill="#040312"/><rect x="1147" y="874.2" width="20.2" height="16.6" fill="#040312"/><rect x="1169.6" y="874.2" width="20.2" height="16.6" fill="#040312"/><rect x="1192.2" y="874.2" width="20.2" height="16.6" fill="#040312"/><rect x="1214.9" y="874.2" width="20.2" height="16.6" fill="#010006"/><rect x="1237.5" y="874.2" width="20.2" height="16.6" fill="#010006"/><rect x="1260.1" y="874.2" width="20.2" height="16.6" fill="#010006"/><rect x="1282.7" y="874.2" width="20.2" height="16.6" fill="#010006"/><rect x="1305.4" y="874.2" width="20.2" height="16.6" fill="#010006"/><rect x="1328" y="874.2" width="20.2" height="16.6" fill="#010006"/><rect x="1350.6" y="874.2" width="20.2" height="16.6" fill="#010006"/><rect x="1373.3" y="874.2" width="20.2" height="16.6" fill="#010006"/><rect x="1395.9" y="874.2" width="20.2" height="16.6" fill="#010006"/><rect x="1418.5" y="874.2" width="20.2" height="16.6" fill="#010006"/><rect x="1441.2" y="874.2" width="20.2" height="16.6" fill="#010006"/><rect x="1463.8" y="874.2" width="20.2" height="16.6" fill="#010006"/><rect x="1486.4" y="874.2" width="20.2" height="16.6" fill="#010006"/><rect x="1509" y="874.2" width="20.2" height="16.6" fill="#010006"/><rect x="1531.7" y="874.2" width="20.2" height="16.6" fill="#010006"/><rect x="1554.3" y="874.2" width="20.2" height="16.6" fill="#010006"/><rect x="1576.9" y="874.2" width="20.2" height="16.6" fill="#010006"/><rect x="1599.6" y="874.2" width="20.2" height="16.6" fill="#010006"/><rect x="1622.2" y="874.2" width="20.2" height="16.6" fill="#010006"/><rect x="1644.8" y="874.2" width="20.2" height="16.6" fill="#010006"/><rect x="1667.5" y="874.2" width="20.2" height="16.6" fill="#010006"/><rect x="1690.1" y="874.2" width="20.2" height="16.6" fill="#010006"/><rect x="1712.7" y="874.2" width="20.2" height="16.6" fill="#010006"/><rect x="1735.3" y="874.2" width="20.2" height="16.6" fill="#010006"/><rect x="1758" y="874.2" width="20.2" height="16.6" fill="#010006"/><rect x="1780.6" y="874.2" width="20.2" height="16.6" fill="#010006"/><rect x="1803.2" y="874.2" width="20.2" height="16.6" fill="#010006"/><rect x="1825.9" y="874.2" width="20.2" height="16.6" fill="#010006"/><rect x="1848.5" y="874.2" width="20.2" height="16.6" fill="#010006"/><rect x="1871.1" y="874.2" width="8.9" height="16.6" fill="#010006"/><rect x="1074" y="893" width="2.7" height="16.6" fill="#040312"/><rect x="1079.1" y="893" width="20.2" height="16.6" fill="#040312"/><rect x="1101.7" y="893" width="20.2" height="16.6" fill="#160b39"/><rect x="1124.3" y="893" width="20.2" height="16.6" fill="#160b39"/><rect x="1147" y="893" width="20.2" height="16.6" fill="#160b39"/><rect x="1169.6" y="893" width="20.2" height="16.6" fill="#160b39"/><rect x="1192.2" y="893" width="20.2" height="16.6" fill="#160b39"/><rect x="1214.9" y="893" width="20.2" height="16.6" fill="#000004"/><rect x="1237.5" y="893" width="20.2" height="16.6" fill="#000004"/><rect x="1260.1" y="893" width="20.2" height="16.6" fill="#000004"/><rect x="1282.7" y="893" width="20.2" height="16.6" fill="#000004"/><rect x="1305.4" y="893" width="20.2" height="16.6" fill="#000004"/><rect x="1328" y="893" width="20.2" height="16.6" fill="#000004"/><rect x="1350.6" y="893" width="20.2" height="16.6" fill="#010109"/><rect x="1373.3" y="893" width="20.2" height="16.6" fill="#010109"/><rect x="1395.9" y="893" width="20.2" height="16.6" fill="#03020d"/><rect x="1418.5" y="893" width="20.2" height="16.6" fill="#03020d"/><rect x="1441.2" y="893" width="20.2" height="16.6" fill="#03020d"/><rect x="1463.8" y="893" width="20.2" height="16.6" fill="#03020d"/><rect x="1486.4" y="893" width="20.2" height="16.6" fill="#03020d"/><rect x="1509" y="893" width="20.2" height="16.6" fill="#010109"/><rect x="1531.7" y="893" width="20.2" height="16.6" fill="#010109"/><rect x="1554.3" y="893" width="20.2" height="16.6" fill="#010109"/><rect x="1576.9" y="893" width="20.2" height="16.6" fill="#010109"/><rect x="1599.6" y="893" width="20.2" height="16.6" fill="#010109"/><rect x="1622.2" y="893" width="20.2" height="16.6" fill="#010109"/><rect x="1644.8" y="893" width="20.2" height="16.6" fill="#010109"/><rect x="1667.5" y="893" width="20.2" height="16.6" fill="#010109"/><rect x="1690.1" y="893" width="20.2" height="16.6" fill="#010109"/><rect x="1712.7" y="893" width="20.2" height="16.6" fill="#03020d"/><rect x="1735.3" y="893" width="20.2" height="16.6" fill="#040312"/><rect x="1758" y="893" width="20.2" height="16.6" fill="#040312"/><rect x="1780.6" y="893" width="20.2" height="16.6" fill="#07051b"/><rect x="1803.2" y="893" width="20.2" height="16.6" fill="#07051b"/><rect x="1825.9" y="893" width="20.2" height="16.6" fill="#040312"/><rect x="1848.5" y="893" width="20.2" height="16.6" fill="#07051b"/><rect x="1871.1" y="893" width="8.9" height="16.6" fill="#03020d"/><rect x="1074" y="912.3" width="2.7" height="16.6" fill="#160b39"/><rect x="1079.1" y="912.3" width="20.2" height="16.6" fill="#10092d"/><rect x="1101.7" y="912.3" width="20.2" height="16.6" fill="#130a33"/><rect x="1124.3" y="912.3" width="20.2" height="16.6" fill="#1a0b3f"/><rect x="1147" y="912.3" width="20.2" height="16.6" fill="#230b4c"/><rect x="1169.6" y="912.3" width="20.2" height="16.6" fill="#230b4c"/><rect x="1192.2" y="912.3" width="20.2" height="16.6" fill="#230b4c"/><rect x="1214.9" y="912.3" width="20.2" height="16.6" fill="#040312"/><rect x="1237.5" y="912.3" width="20.2" height="16.6" fill="#230b4c"/><rect x="1260.1" y="912.3" width="20.2" height="16.6" fill="#1f0b45"/><rect x="1282.7" y="912.3" width="20.2" height="16.6" fill="#1f0b45"/><rect x="1305.4" y="912.3" width="20.2" height="16.6" fill="#1a0b3f"/><rect x="1328" y="912.3" width="20.2" height="16.6" fill="#1f0b45"/><rect x="1350.6" y="912.3" width="20.2" height="16.6" fill="#07051b"/><rect x="1373.3" y="912.3" width="20.2" height="16.6" fill="#0d0727"/><rect x="1395.9" y="912.3" width="20.2" height="16.6" fill="#10092d"/><rect x="1418.5" y="912.3" width="20.2" height="16.6" fill="#10092d"/><rect x="1441.2" y="912.3" width="20.2" height="16.6" fill="#10092d"/><rect x="1463.8" y="912.3" width="20.2" height="16.6" fill="#0a0621"/><rect x="1486.4" y="912.3" width="20.2" height="16.6" fill="#0a0621"/><rect x="1509" y="912.3" width="20.2" height="16.6" fill="#060416"/><rect x="1531.7" y="912.3" width="20.2" height="16.6" fill="#07051b"/><rect x="1554.3" y="912.3" width="20.2" height="16.6" fill="#0d0727"/><rect x="1576.9" y="912.3" width="20.2" height="16.6" fill="#160b39"/><rect x="1599.6" y="912.3" width="20.2" height="16.6" fill="#1f0b45"/><rect x="1622.2" y="912.3" width="20.2" height="16.6" fill="#230b4c"/><rect x="1644.8" y="912.3" width="20.2" height="16.6" fill="#2c0b58"/><rect x="1667.5" y="912.3" width="20.2" height="16.6" fill="#300b5b"/><rect x="1690.1" y="912.3" width="20.2" height="16.6" fill="#300b5b"/><rect x="1712.7" y="912.3" width="20.2" height="16.6" fill="#300b5b"/><rect x="1735.3" y="912.3" width="20.2" height="16.6" fill="#280b52"/><rect x="1758" y="912.3" width="20.2" height="16.6" fill="#280b52"/><rect x="1780.6" y="912.3" width="20.2" height="16.6" fill="#1f0b45"/><rect x="1803.2" y="912.3" width="20.2" height="16.6" fill="#0a0621"/><rect x="1825.9" y="912.3" width="20.2" height="16.6" fill="#230b4c"/><rect x="1848.5" y="912.3" width="20.2" height="16.6" fill="#280b52"/><rect x="1871.1" y="912.3" width="8.9" height="16.6" fill="#280b52"/><rect x="1074" y="931.3" width="2.7" height="16.6" fill="#57106e"/><rect x="1079.1" y="931.3" width="20.2" height="16.6" fill="#4a0c6a"/><rect x="1101.7" y="931.3" width="20.2" height="16.6" fill="#390a62"/><rect x="1124.3" y="931.3" width="20.2" height="16.6" fill="#350b5e"/><rect x="1147" y="931.3" width="20.2" height="16.6" fill="#4a0c6a"/><rect x="1169.6" y="931.3" width="20.2" height="16.6" fill="#4a0c6a"/><rect x="1192.2" y="931.3" width="20.2" height="16.6" fill="#530f6d"/><rect x="1214.9" y="931.3" width="20.2" height="16.6" fill="#4a0c6a"/><rect x="1237.5" y="931.3" width="20.2" height="16.6" fill="#4a0c6a"/><rect x="1260.1" y="931.3" width="20.2" height="16.6" fill="#3e0a65"/><rect x="1282.7" y="931.3" width="20.2" height="16.6" fill="#350b5e"/><rect x="1305.4" y="931.3" width="20.2" height="16.6" fill="#1f0b45"/><rect x="1328" y="931.3" width="20.2" height="16.6" fill="#1a0b3f"/><rect x="1350.6" y="931.3" width="20.2" height="16.6" fill="#1a0b3f"/><rect x="1373.3" y="931.3" width="20.2" height="16.6" fill="#350b5e"/><rect x="1395.9" y="931.3" width="20.2" height="16.6" fill="#420a68"/><rect x="1418.5" y="931.3" width="20.2" height="16.6" fill="#530f6d"/><rect x="1441.2" y="931.3" width="20.2" height="16.6" fill="#530f6d"/><rect x="1463.8" y="931.3" width="20.2" height="16.6" fill="#4a0c6a"/><rect x="1486.4" y="931.3" width="20.2" height="16.6" fill="#4f0e6c"/><rect x="1509" y="931.3" width="20.2" height="16.6" fill="#3e0a65"/><rect x="1531.7" y="931.3" width="20.2" height="16.6" fill="#350b5e"/><rect x="1554.3" y="931.3" width="20.2" height="16.6" fill="#3e0a65"/><rect x="1576.9" y="931.3" width="20.2" height="16.6" fill="#420a68"/><rect x="1599.6" y="931.3" width="20.2" height="16.6" fill="#3e0a65"/><rect x="1622.2" y="931.3" width="20.2" height="16.6" fill="#57106e"/><rect x="1644.8" y="931.3" width="20.2" height="16.6" fill="#5f136e"/><rect x="1667.5" y="931.3" width="20.2" height="16.6" fill="#5f136e"/><rect x="1690.1" y="931.3" width="20.2" height="16.6" fill="#5f136e"/><rect x="1712.7" y="931.3" width="20.2" height="16.6" fill="#5f136e"/><rect x="1735.3" y="931.3" width="20.2" height="16.6" fill="#530f6d"/><rect x="1758" y="931.3" width="20.2" height="16.6" fill="#4f0e6c"/><rect x="1780.6" y="931.3" width="20.2" height="16.6" fill="#4f0e6c"/><rect x="1803.2" y="931.3" width="20.2" height="16.6" fill="#300b5b"/><rect x="1825.9" y="931.3" width="20.2" height="16.6" fill="#4f0e6c"/><rect x="1848.5" y="931.3" width="20.2" height="16.6" fill="#4a0c6a"/><rect x="1871.1" y="931.3" width="8.9" height="16.6" fill="#460b69"/><rect x="1074" y="950.6" width="2.7" height="16.6" fill="#82206b"/><rect x="1079.1" y="950.6" width="20.2" height="16.6" fill="#761b6d"/><rect x="1101.7" y="950.6" width="20.2" height="16.6" fill="#6a176e"/><rect x="1124.3" y="950.6" width="20.2" height="16.6" fill="#66166e"/><rect x="1147" y="950.6" width="20.2" height="16.6" fill="#7a1d6c"/><rect x="1169.6" y="950.6" width="20.2" height="16.6" fill="#761b6d"/><rect x="1192.2" y="950.6" width="20.2" height="16.6" fill="#86216a"/><rect x="1214.9" y="950.6" width="20.2" height="16.6" fill="#82206b"/><rect x="1237.5" y="950.6" width="20.2" height="16.6" fill="#761b6d"/><rect x="1260.1" y="950.6" width="20.2" height="16.6" fill="#6a176e"/><rect x="1282.7" y="950.6" width="20.2" height="16.6" fill="#57106e"/><rect x="1305.4" y="950.6" width="20.2" height="16.6" fill="#4a0c6a"/><rect x="1328" y="950.6" width="20.2" height="16.6" fill="#460b69"/><rect x="1350.6" y="950.6" width="20.2" height="16.6" fill="#4f0e6c"/><rect x="1373.3" y="950.6" width="20.2" height="16.6" fill="#6e186e"/><rect x="1395.9" y="950.6" width="20.2" height="16.6" fill="#7e1e6c"/><rect x="1418.5" y="950.6" width="20.2" height="16.6" fill="#972865"/><rect x="1441.2" y="950.6" width="20.2" height="16.6" fill="#8f2468"/><rect x="1463.8" y="950.6" width="20.2" height="16.6" fill="#86216a"/><rect x="1486.4" y="950.6" width="20.2" height="16.6" fill="#82206b"/><rect x="1509" y="950.6" width="20.2" height="16.6" fill="#6e186e"/><rect x="1531.7" y="950.6" width="20.2" height="16.6" fill="#62146e"/><rect x="1554.3" y="950.6" width="20.2" height="16.6" fill="#62146e"/><rect x="1576.9" y="950.6" width="20.2" height="16.6" fill="#62146e"/><rect x="1599.6" y="950.6" width="20.2" height="16.6" fill="#5d126e"/><rect x="1622.2" y="950.6" width="20.2" height="16.6" fill="#7e1e6c"/><rect x="1644.8" y="950.6" width="20.2" height="16.6" fill="#a02b62"/><rect x="1667.5" y="950.6" width="20.2" height="16.6" fill="#972865"/><rect x="1690.1" y="950.6" width="20.2" height="16.6" fill="#932667"/><rect x="1712.7" y="950.6" width="20.2" height="16.6" fill="#8b2369"/><rect x="1735.3" y="950.6" width="20.2" height="16.6" fill="#6e186e"/><rect x="1758" y="950.6" width="20.2" height="16.6" fill="#6e186e"/><rect x="1780.6" y="950.6" width="20.2" height="16.6" fill="#6e186e"/><rect x="1803.2" y="950.6" width="20.2" height="16.6" fill="#530f6d"/><rect x="1825.9" y="950.6" width="20.2" height="16.6" fill="#6a176e"/><rect x="1848.5" y="950.6" width="20.2" height="16.6" fill="#6a176e"/><rect x="1871.1" y="950.6" width="8.9" height="16.6" fill="#6e186e"/><rect x="1074" y="969.7" width="2.7" height="16.6" fill="#f6d746"/><rect x="1079.1" y="969.7" width="20.2" height="16.6" fill="#f6d746"/><rect x="1101.7" y="969.7" width="20.2" height="16.6" fill="#f9c52d"/><rect x="1124.3" y="969.7" width="20.2" height="16.6" fill="#fbb61b"/><rect x="1147" y="969.7" width="20.2" height="16.6" fill="#fcab10"/><rect x="1169.6" y="969.7" width="20.2" height="16.6" fill="#fca50a"/><rect x="1192.2" y="969.7" width="20.2" height="16.6" fill="#fbb61b"/><rect x="1214.9" y="969.7" width="20.2" height="16.6" fill="#f6d746"/><rect x="1237.5" y="969.7" width="20.2" height="16.6" fill="#f9c52d"/><rect x="1260.1" y="969.7" width="20.2" height="16.6" fill="#fac127"/><rect x="1282.7" y="969.7" width="20.2" height="16.6" fill="#fb9c0a"/><rect x="1305.4" y="969.7" width="20.2" height="16.6" fill="#f47c16"/><rect x="1328" y="969.7" width="20.2" height="16.6" fill="#f88a0c"/><rect x="1350.6" y="969.7" width="20.2" height="16.6" fill="#fba00a"/><rect x="1373.3" y="969.7" width="20.2" height="16.6" fill="#f7d340"/><rect x="1395.9" y="969.7" width="20.2" height="16.6" fill="#f4e662"/><rect x="1418.5" y="969.7" width="20.2" height="16.6" fill="#fcffa4"/><rect x="1441.2" y="969.7" width="20.2" height="16.6" fill="#f4f37e"/><rect x="1463.8" y="969.7" width="20.2" height="16.6" fill="#f6f687"/><rect x="1486.4" y="969.7" width="20.2" height="16.6" fill="#f4e662"/><rect x="1509" y="969.7" width="20.2" height="16.6" fill="#f9c52d"/><rect x="1531.7" y="969.7" width="20.2" height="16.6" fill="#fcab10"/><rect x="1554.3" y="969.7" width="20.2" height="16.6" fill="#fba00a"/><rect x="1576.9" y="969.7" width="20.2" height="16.6" fill="#f7850f"/><rect x="1599.6" y="969.7" width="20.2" height="16.6" fill="#f58113"/><rect x="1622.2" y="969.7" width="20.2" height="16.6" fill="#fbb61b"/><rect x="1644.8" y="969.7" width="20.2" height="16.6" fill="#f8ca33"/><rect x="1667.5" y="969.7" width="20.2" height="16.6" fill="#f6d746"/><rect x="1690.1" y="969.7" width="20.2" height="16.6" fill="#f6d746"/><rect x="1712.7" y="969.7" width="20.2" height="16.6" fill="#f7d340"/><rect x="1735.3" y="969.7" width="20.2" height="16.6" fill="#f8ca33"/><rect x="1758" y="969.7" width="20.2" height="16.6" fill="#f8ca33"/><rect x="1780.6" y="969.7" width="20.2" height="16.6" fill="#f7d340"/><rect x="1803.2" y="969.7" width="20.2" height="16.6" fill="#fabb21"/><rect x="1825.9" y="969.7" width="20.2" height="16.6" fill="#fbb016"/><rect x="1848.5" y="969.7" width="20.2" height="16.6" fill="#fbb016"/><rect x="1871.1" y="969.7" width="8.9" height="16.6" fill="#fac127"/><rect x="1074" y="989" width="2.7" height="16.6" fill="#280b52"/><rect x="1079.1" y="989" width="20.2" height="16.6" fill="#280b52"/><rect x="1101.7" y="989" width="20.2" height="16.6" fill="#230b4c"/><rect x="1124.3" y="989" width="20.2" height="16.6" fill="#230b4c"/><rect x="1147" y="989" width="20.2" height="16.6" fill="#230b4c"/><rect x="1169.6" y="989" width="20.2" height="16.6" fill="#230b4c"/><rect x="1192.2" y="989" width="20.2" height="16.6" fill="#1f0b45"/><rect x="1214.9" y="989" width="20.2" height="16.6" fill="#1f0b45"/><rect x="1237.5" y="989" width="20.2" height="16.6" fill="#1f0b45"/><rect x="1260.1" y="989" width="20.2" height="16.6" fill="#1f0b45"/><rect x="1282.7" y="989" width="20.2" height="16.6" fill="#1f0b45"/><rect x="1305.4" y="989" width="20.2" height="16.6" fill="#1a0b3f"/><rect x="1328" y="989" width="20.2" height="16.6" fill="#1a0b3f"/><rect x="1350.6" y="989" width="20.2" height="16.6" fill="#1f0b45"/><rect x="1373.3" y="989" width="20.2" height="16.6" fill="#230b4c"/><rect x="1395.9" y="989" width="20.2" height="16.6" fill="#280b52"/><rect x="1418.5" y="989" width="20.2" height="16.6" fill="#280b52"/><rect x="1441.2" y="989" width="20.2" height="16.6" fill="#280b52"/><rect x="1463.8" y="989" width="20.2" height="16.6" fill="#280b52"/><rect x="1486.4" y="989" width="20.2" height="16.6" fill="#280b52"/><rect x="1509" y="989" width="20.2" height="16.6" fill="#1f0b45"/><rect x="1531.7" y="989" width="20.2" height="16.6" fill="#1a0b3f"/><rect x="1554.3" y="989" width="20.2" height="16.6" fill="#1a0b3f"/><rect x="1576.9" y="989" width="20.2" height="16.6" fill="#160b39"/><rect x="1599.6" y="989" width="20.2" height="16.6" fill="#160b39"/><rect x="1622.2" y="989" width="20.2" height="16.6" fill="#1a0b3f"/><rect x="1644.8" y="989" width="20.2" height="16.6" fill="#1f0b45"/><rect x="1667.5" y="989" width="20.2" height="16.6" fill="#1f0b45"/><rect x="1690.1" y="989" width="20.2" height="16.6" fill="#230b4c"/><rect x="1712.7" y="989" width="20.2" height="16.6" fill="#1f0b45"/><rect x="1735.3" y="989" width="20.2" height="16.6" fill="#1f0b45"/><rect x="1758" y="989" width="20.2" height="16.6" fill="#1f0b45"/><rect x="1780.6" y="989" width="20.2" height="16.6" fill="#1f0b45"/><rect x="1803.2" y="989" width="20.2" height="16.6" fill="#1f0b45"/><rect x="1825.9" y="989" width="20.2" height="16.6" fill="#1f0b45"/><rect x="1848.5" y="989" width="20.2" height="16.6" fill="#1f0b45"/><rect x="1871.1" y="989" width="8.9" height="16.6" fill="#230b4c"/>
<rect x="1074" y="796" width="806" height="1" fill="#434548" fill-opacity="0.9"/>
<rect x="1074" y="834" width="806" height="1" fill="#434548" fill-opacity="0.9"/>
<rect x="1074" y="873" width="806" height="1" fill="#434548" fill-opacity="0.9"/>
<rect x="1074" y="911" width="806" height="1" fill="#434548" fill-opacity="0.9"/>
<rect x="1074" y="949" width="806" height="1" fill="#434548" fill-opacity="0.9"/>
<rect x="1074" y="988" width="806" height="1" fill="#434548" fill-opacity="0.9"/>
<rect x="1074" y="1026" width="806" height="1" fill="#434548" fill-opacity="0.9"/>
<text x="1069" y="799.5" text-anchor="end" font-size="11" letter-spacing="0.7" fill="#c7d0d9">+Inf</text>
<text x="1069" y="837.5" text-anchor="end" font-size="11" letter-spacing="0.7" fill="#c7d0d9">5.000 s</text>
<text x="1069" y="876.5" text-anchor="end" font-size="11" letter-spacing="0.7" fill="#c7d0d9">1.000 s</text>
<text x="1069" y="914.5" text-anchor="end" font-size="11" letter-spacing="0.7" fill="#c7d0d9">250.000 ms</text>
<text x="1069" y="952.5" text-anchor="end" font-size="11" letter-spacing="0.7" fill="#c7d0d9">50.000 ms</text>
<text x="1069" y="991.5" text-anchor="end" font-size="11" letter-spacing="0.7" fill="#c7d0d9">10.000 ms</text>
<rect x="1169" y="796" width="1" height="230" fill="#434548" fill-opacity="0.9"/>
<text x="1169.8" y="1044" text-anchor="middle" font-size="11" letter-spacing="0.8" fill="#c7d0d9">06:10</text>
<rect x="1282" y="796" width="1" height="230" fill="#434548" fill-opacity="0.9"/>
<text x="1282.9" y="1044" text-anchor="middle" font-size="11" letter-spacing="0.8" fill="#c7d0d9">06:15</text>
<rect x="1396" y="796" width="1" height="230" fill="#434548" fill-opacity="0.9"/>
<text x="1396.1" y="1044" text-anchor="middle" font-size="11" letter-spacing="0.8" fill="#c7d0d9">06:20</text>
<rect x="1509" y="796" width="1" height="230" fill="#434548" fill-opacity="0.9"/>
<text x="1509.2" y="1044" text-anchor="middle" font-size="11" letter-spacing="0.8" fill="#c7d0d9">06:25</text>
<rect x="1622" y="796" width="1" height="230" fill="#434548" fill-opacity="0.9"/>
<text x="1622.4" y="1044" text-anchor="middle" font-size="11" letter-spacing="0.8" fill="#c7d0d9">06:30</text>
<rect x="1735" y="796" width="1" height="230" fill="#434548" fill-opacity="0.9"/>
<text x="1735.5" y="1044" text-anchor="middle" font-size="11" letter-spacing="0.8" fill="#c7d0d9">06:35</text>
<rect x="1848" y="796" width="1" height="230" fill="#434548" fill-opacity="0.9"/>
<text x="1848.7" y="1044" text-anchor="middle" font-size="11" letter-spacing="0.8" fill="#c7d0d9">06:40</text>
<rect x="1029" y="1050" width="10.3" height="6" fill="#000004"/>
<rect x="1039" y="1050" width="10.3" height="6" fill="#050415"/>
<rect x="1049.1" y="1050" width="10.3" height="6" fill="#0e0829"/>
<rect x="1059.1" y="1050" width="10.3" height="6" fill="#1b0b40"/>
<rect x="1069.1" y="1050" width="10.3" height="6" fill="#2b0b57"/>
<rect x="1079.2" y="1050" width="10.3" height="6" fill="#3b0a63"/>
<rect x="1089.2" y="1050" width="10.3" height="6" fill="#4b0d6b"/>
<rect x="1099.3" y="1050" width="10.3" height="6" fill="#5a116e"/>
<rect x="1109.3" y="1050" width="10.3" height="6" fill="#68166e"/>
<rect x="1119.3" y="1050" width="10.3" height="6" fill="#771c6d"/>
<rect x="1129.4" y="1050" width="10.3" height="6" fill="#86216a"/>
<rect x="1139.4" y="1050" width="10.3" height="6" fill="#962766"/>
<rect x="1149.4" y="1050" width="10.3" height="6" fill="#a52d60"/>
<rect x="1159.5" y="1050" width="10.3" height="6" fill="#b43358"/>
<rect x="1169.5" y="1050" width="10.3" height="6" fill="#c23b4f"/>
<rect x="1179.6" y="1050" width="10.3" height="6" fill="#d04545"/>
<rect x="1189.6" y="1050" width="10.3" height="6" fill="#da4f3c"/>
<rect x="1199.6" y="1050" width="10.3" height="6" fill="#e55c31"/>
<rect x="1209.7" y="1050" width="10.3" height="6" fill="#ed6a24"/>
<rect x="1219.7" y="1050" width="10.3" height="6" fill="#f37919"/>
<rect x="1229.7" y="1050" width="10.3" height="6" fill="#f8890d"/>
<rect x="1239.8" y="1050" width="10.3" height="6" fill="#fb9a0a"/>
<rect x="1249.8" y="1050" width="10.3" height="6" fill="#fcac11"/>
<rect x="1259.9" y="1050" width="10.3" height="6" fill="#fac127"/>
<rect x="1269.9" y="1050" width="10.3" height="6" fill="#f7d13d"/>
<rect x="1279.9" y="1050" width="10.3" height="6" fill="#f4e35b"/>
<rect x="1290" y="1050" width="10.3" height="6" fill="#f4f37e"/>
<text x="1029.4" y="1067" text-anchor="middle" font-size="11" letter-spacing="0.6" fill="#c7d0d9">0</text>
<text x="1110.5" y="1067" text-anchor="middle" font-size="11" letter-spacing="0.6" fill="#c7d0d9">2,000</text>
<text x="1191.3" y="1067" text-anchor="middle" font-size="11" letter-spacing="0.6" fill="#c7d0d9">4,000</text>
<text x="1272" y="1067" text-anchor="middle" font-size="11" letter-spacing="0.6" fill="#c7d0d9">6,000</text>
<text x="1300.3" y="1067" text-anchor="middle" font-size="11" letter-spacing="0.6" fill="#c7d0d9">6,669</text><rect x="1016" y="380" width="10" height="2" fill="#7eb26d" fill-opacity="0.88"/><text x="1033.5" y="384" font-size="12" fill="#c7d0d9">200</text><rect x="1066" y="380" width="10" height="2" fill="#eab839" fill-opacity="0.88"/><text x="1083.5" y="384" font-size="12" fill="#c7d0d9">500</text><rect x="1016" y="722" width="10" height="2" fill="#7eb26d" fill-opacity="0.88"/><text x="1033.5" y="726" font-size="12" fill="#c7d0d9">200</text><rect x="1066" y="722" width="10" height="2" fill="#eab839" fill-opacity="0.88"/><text x="1083.5" y="726" font-size="12" fill="#c7d0d9">500</text><rect x="98" y="1064" width="10" height="2" fill="#7eb26d" fill-opacity="0.88"/><text x="115.5" y="1068" font-size="12" fill="#c7d0d9">p99</text><rect x="148" y="1064" width="10" height="2" fill="#eab839" fill-opacity="0.88"/><text x="165.5" y="1068" font-size="12" fill="#c7d0d9">p95</text><rect x="198" y="1064" width="10" height="2" fill="#6ed0e0" fill-opacity="0.88"/><text x="215.5" y="1068" font-size="12" fill="#c7d0d9">p90</text><rect x="248" y="1064" width="10" height="2" fill="#ef843c" fill-opacity="0.88"/><text x="265.5" y="1068" font-size="12" fill="#c7d0d9">p75</text><rect x="298" y="1064" width="10" height="2" fill="#e24d42" fill-opacity="0.88"/><text x="315.5" y="1068" font-size="12" fill="#c7d0d9">p50</text>
<!-- title caret -->
<path d="M557.7 79.3 l3.5 3.4 l3.5 -3.4" fill="none" stroke="#8e9196" stroke-width="1.4"/>
<!-- resize handle -->
<rect x="978" y="394" width="5" height="2" fill="#6a6c70"/><rect x="981" y="391" width="2" height="4" fill="#6a6c70"/>
</svg>
<div class="tip">
 <div style="left:12px;top:10px;font-weight:bold;letter-spacing:0.28px">2020-11-24 06:28:00</div>
 <div style="left:12px;top:36px;width:10px;height:3px;background:#7eb26d;border-radius:1px"></div>
 <div style="left:25px;top:30.5px;">Value:</div>
 <div style="left:74px;top:30.5px;font-weight:bold;letter-spacing:0.35px">39.07</div>
</div>
<!-- scrollbar -->
<div style="position:absolute;left:1912px;top:106px;width:8px;height:969px;border-radius:4px;background:linear-gradient(#35364a,#38393b)"></div>
<!-- NAV -->
<div style="position:absolute;left:102px;top:18.5px;font-size:18px;color:#d8d9da;letter-spacing:-0.35px">Caddy</div>
<svg class="ico" style="left:0;top:0" width="1920" height="60" viewBox="0 0 1920 60" fill="none" stroke="#c7c9cc" stroke-width="1.5">
 <rect x="78" y="21" width="5.6" height="5.6" rx="0.7"/><rect x="86.6" y="21" width="5.6" height="5.6" rx="0.7"/>
 <rect x="78" y="29.4" width="5.6" height="5.6" rx="0.7"/><rect x="86.6" y="29.4" width="5.6" height="5.6" rx="0.7"/>
 <path d="M175 21.6 l2.1 4.3 4.7 .7 -3.4 3.3 .8 4.7 -4.2 -2.2 -4.2 2.2 .8 -4.7 -3.4 -3.3 4.7 -.7z" stroke-linejoin="round"/>
 <circle cx="209.3" cy="23.3" r="2.2"/><circle cx="200.3" cy="28.2" r="2.2"/><circle cx="209.3" cy="33.2" r="2.2"/>
 <path d="M202.3 27.1 l5 -2.7 M202.3 29.3 l5 2.8"/>
</svg>
<div class="btn" style="left:1197px;width:42px"></div>
<div class="btn" style="left:1243px;width:36px"></div>
<div class="btn" style="left:1283px;width:36px"></div>
<div class="btn" style="left:1333px;width:36px"></div>
<div class="btn" style="left:1383px;width:28px"></div>
<div class="btn" style="left:1415px;width:346px"></div>
<div class="btn" style="left:1765px;width:28px"></div>
<div class="btn" style="left:1797px;width:36px"></div>
<div class="btn" style="left:1837px;width:67px"></div>
<div style="position:absolute;left:1872px;top:13px;width:1px;height:30px;background:#2a2c30"></div>
<div id="tr" style="position:absolute;left:1446px;top:19px;font-size:14px;color:#9fb0c6;white-space:nowrap;letter-spacing:0.12px">2020-11-24 06:05:46 to 2020-11-24 06:41:23</div>
<svg class="ico" style="left:0;top:0" width="1920" height="60" viewBox="0 0 1920 60" fill="none" stroke="#8e9196" stroke-width="1.5" stroke-linecap="round"><rect x="1205.8" y="26.3" width="3.2" height="8.4" rx="0.5" fill="#8e9196" stroke="none"/><rect x="1210.3" y="23.3" width="3.2" height="11.4" rx="0.5" fill="#8e9196" stroke="none"/><rect x="1214.7" y="28.3" width="3.2" height="6.4" rx="0.5" fill="#8e9196" stroke="none"/><rect x="1219.1" y="21.3" width="3.2" height="13.4" rx="0.5" fill="#8e9196" stroke="none"/><path d="M1224.2 23.5h2.8v3.1h3.1v2.8h-3.1v3.1h-2.8v-3.1h-3.1v-2.8h3.1z" fill="#141619" stroke="#141619" stroke-width="2" stroke-linejoin="miter"/><defs><linearGradient id="pg" x1="0" y1="0" x2="0" y2="1"><stop offset="0" stop-color="#f9952b"/><stop offset="1" stop-color="#fbca0a"/></linearGradient><linearGradient id="lg" x1="0" y1="0" x2="0" y2="1"><stop offset="0" stop-color="#f05a28"/><stop offset="1" stop-color="#fbca0a"/></linearGradient></defs><path d="M1224.2 23.5h2.8v3.1h3.1v2.8h-3.1v3.1h-2.8v-3.1h-3.1v-2.8h3.1z" fill="url(#pg)" stroke="none"/><path d="M1256.6 22 h7.2 l3.6 3.6 v6.9 a1.6 1.6 0 0 1 -1.6 1.6 h-9.2 a1.6 1.6 0 0 1 -1.6 -1.6 v-8.9 a1.6 1.6 0 0 1 1.6 -1.6z M1258 22.3 v3 h4.6 v-3 M1257.6 34 v-4.2 h7 v4.2"/><path d="M1306.47,26.78 L1308.33,26.96 L1308.33,29.04 L1306.47,29.22 L1305.73,31.00 L1306.92,32.44 L1305.44,33.92 L1304.00,32.73 L1302.22,33.47 L1302.04,35.33 L1299.96,35.33 L1299.78,33.47 L1298.00,32.73 L1296.56,33.92 L1295.08,32.44 L1296.27,31.00 L1295.53,29.22 L1293.67,29.04 L1293.67,26.96 L1295.53,26.78 L1296.27,25.00 L1295.08,23.56 L1296.56,22.08 L1298.00,23.27 L1299.78,22.53 L1299.96,20.67 L1302.04,20.67 L1302.22,22.53 L1304.00,23.27 L1305.44,22.08 L1306.92,23.56 L1305.73,25.00Z" stroke-linejoin="round"/><circle cx="1301" cy="28" r="2.3"/><rect x="1344.2" y="21.3" width="13.6" height="10" rx="1.5"/><path d="M1344.2 28.4h13.6 M1348.3 34.5h5.4 M1349 31.4v3 M1353 31.4v3"/><path d="M1399 24.2 l-3.8 3.8 3.8 3.8" stroke="#9fa3a8" stroke-linecap="butt"/><path d="M1777.2 24.2 l3.8 3.8 -3.8 3.8" stroke="#9fa3a8" stroke-linecap="butt"/><path d="M1743.2 26.4 l3.8 3.8 3.8 -3.8" stroke="#9fa3a8" stroke-linecap="butt"/><path d="M1884.2 26.9 l3.8 3.8 3.8 -3.8" stroke="#9fa3a8" stroke-linecap="butt"/><circle cx="1432.3" cy="28" r="7" stroke="#9fa3a8" stroke-width="1.3"/><path d="M1432.3 23.6 v4.6 h-3.4" stroke="#9fa3a8" stroke-width="1.3"/><circle cx="1814" cy="27" r="6.5"/><path d="M1810.6 27h6.8 M1818.7 31.8 l3.8 3.8"/><path d="M1848.4 25.6 A7 7 0 0 1 1861.8 26.2 M1861.6 30.4 A7 7 0 0 1 1848.2 29.8"/><path d="M1848.2 21.6 v4.2 h4.2 M1861.8 34.4 v-4.2 h-4.2"/></svg>
<div class="side"></div><div class="topline"></div><svg class="ico" style="left:0;top:0" width="60" height="1080" viewBox="0 0 60 1080" fill="none" stroke="#a0a6b2" stroke-width="2" stroke-linecap="round"><path d="M29.2,11.9 L33.9,14.9 L38.9,15.8 L39.7,18.9 L41.7,22.8 L42.8,26.4 L40.8,27.2 L40.6,30.3 L41.9,33.9 L36.9,36.9 L34.4,43.1 L27.8,40.3 L21.4,41.7 L19.7,35.6 L13.9,30.8 L17.8,24.4 L16.9,17.2 L24.4,16.1Z" fill="url(#lg)" stroke="url(#lg)" stroke-width="0.8" stroke-linejoin="round"/><path d="M38.4 27.2 A7.3 7.3 0 1 0 36.5 32.7" fill="none" stroke="#141619" stroke-width="3" stroke-linecap="butt"/><circle cx="31.9" cy="28.7" r="2.6" fill="#141619" stroke="none"/><circle cx="29.6" cy="117" r="8.6"/><path d="M36 123.6 l4.6 4.6"/><path d="M23.5 162.4 h15 M31 154.8 v15.2"/><rect x="21.7" y="197" width="7.6" height="7.6" rx="0.6"/><rect x="32.5" y="197" width="7.6" height="7.6" rx="0.6"/><rect x="21.7" y="207.8" width="7.6" height="7.6" rx="0.6"/><rect x="32.5" y="207.8" width="7.6" height="7.6" rx="0.6"/><circle cx="30.8" cy="250" r="9.4"/><path d="M35 245.8 l-2.4 6.2 -6.2 2.4 2.4 -6.2z" stroke-width="1.5" stroke-linejoin="round"/><path d="M30.8 240.6v1.6 M30.8 257.8v1.6 M21.4 250h1.6 M38.6 250h1.6" stroke-width="1.5"/><path d="M30.8 284.4 v1.6 M24 298.5 v-6 a6.8 6.8 0 0 1 13.6 0 v6 M22.2 298.5 h17.2 M27.6 301 a3.3 3.3 0 0 0 6.4 0" stroke-linejoin="round"/><path d="M38.02,336.59 L40.50,336.82 L40.50,339.58 L38.02,339.81 L37.05,342.17 L38.64,344.08 L36.68,346.04 L34.77,344.45 L32.41,345.42 L32.18,347.90 L29.42,347.90 L29.19,345.42 L26.83,344.45 L24.92,346.04 L22.96,344.08 L24.55,342.17 L23.58,339.81 L21.10,339.58 L21.10,336.82 L23.58,336.59 L24.55,334.23 L22.96,332.32 L24.92,330.36 L26.83,331.95 L29.19,330.98 L29.42,328.50 L32.18,328.50 L32.41,330.98 L34.77,331.95 L36.68,330.36 L38.64,332.32 L37.05,334.23Z" stroke-linejoin="round"/><circle cx="30.8" cy="338.2" r="3"/><path d="M30.8 372.8 l7.6 1.7 v6.7 c0 5.4 -3.6 8.4 -7.6 10.4 c-4 -2 -7.6 -5 -7.6 -10.4 v-6.7z" stroke-linejoin="round"/><circle cx="30.9" cy="1042" r="9.4"/><path d="M28 1039.3 a2.9 2.9 0 1 1 4.4 2.5 c-1 .6 -1.5 1.1 -1.5 2.3" stroke-width="2.1"/><circle cx="30.9" cy="1047.2" r="0.7" fill="#a0a6b2" stroke-width="1.4"/><clipPath id="avc"><circle cx="31" cy="999" r="14"/></clipPath><g clip-path="url(#avc)" stroke="none"><rect x="16" y="984" width="30" height="30" fill="#4a7a10"/><rect x="20.00" y="987.80" width="3.07" height="3.07" fill="#fb8578"/><rect x="25.34" y="987.80" width="3.07" height="3.07" fill="#fb8578"/><rect x="33.35" y="987.80" width="3.07" height="3.07" fill="#fb8578"/><rect x="38.69" y="987.80" width="3.07" height="3.07" fill="#fb8578"/><rect x="25.34" y="990.47" width="3.07" height="3.07" fill="#fb8578"/><rect x="28.01" y="990.47" width="3.07" height="3.07" fill="#fb8578"/><rect x="30.68" y="990.47" width="3.07" height="3.07" fill="#fb8578"/><rect x="33.35" y="990.47" width="3.07" height="3.07" fill="#fb8578"/><rect x="25.34" y="993.14" width="3.07" height="3.07" fill="#fb8578"/><rect x="33.35" y="993.14" width="3.07" height="3.07" fill="#fb8578"/><rect x="25.34" y="995.81" width="3.07" height="3.07" fill="#fb8578"/><rect x="33.35" y="995.81" width="3.07" height="3.07" fill="#fb8578"/><rect x="20.00" y="998.48" width="3.07" height="3.07" fill="#fb8578"/><rect x="22.67" y="998.48" width="3.07" height="3.07" fill="#fb8578"/><rect x="25.34" y="998.48" width="3.07" height="3.07" fill="#fb8578"/><rect x="33.35" y="998.48" width="3.07" height="3.07" fill="#fb8578"/><rect x="36.02" y="998.48" width="3.07" height="3.07" fill="#fb8578"/><rect x="38.69" y="998.48" width="3.07" height="3.07" fill="#fb8578"/><rect x="20.00" y="1001.15" width="3.07" height="3.07" fill="#fb8578"/><rect x="22.67" y="1001.15" width="3.07" height="3.07" fill="#fb8578"/><rect x="28.01" y="1001.15" width="3.07" height="3.07" fill="#fb8578"/><rect x="30.68" y="1001.15" width="3.07" height="3.07" fill="#fb8578"/><rect x="36.02" y="1001.15" width="3.07" height="3.07" fill="#fb8578"/><rect x="38.69" y="1001.15" width="3.07" height="3.07" fill="#fb8578"/><rect x="20.00" y="1003.82" width="3.07" height="3.07" fill="#fb8578"/><rect x="22.67" y="1003.82" width="3.07" height="3.07" fill="#fb8578"/><rect x="25.34" y="1003.82" width="3.07" height="3.07" fill="#fb8578"/><rect x="33.35" y="1003.82" width="3.07" height="3.07" fill="#fb8578"/><rect x="36.02" y="1003.82" width="3.07" height="3.07" fill="#fb8578"/><rect x="38.69" y="1003.82" width="3.07" height="3.07" fill="#fb8578"/><rect x="22.67" y="1006.49" width="3.07" height="3.07" fill="#fb8578"/><rect x="28.01" y="1006.49" width="3.07" height="3.07" fill="#fb8578"/><rect x="30.68" y="1006.49" width="3.07" height="3.07" fill="#fb8578"/><rect x="36.02" y="1006.49" width="3.07" height="3.07" fill="#fb8578"/></g></svg>
</body></html>
